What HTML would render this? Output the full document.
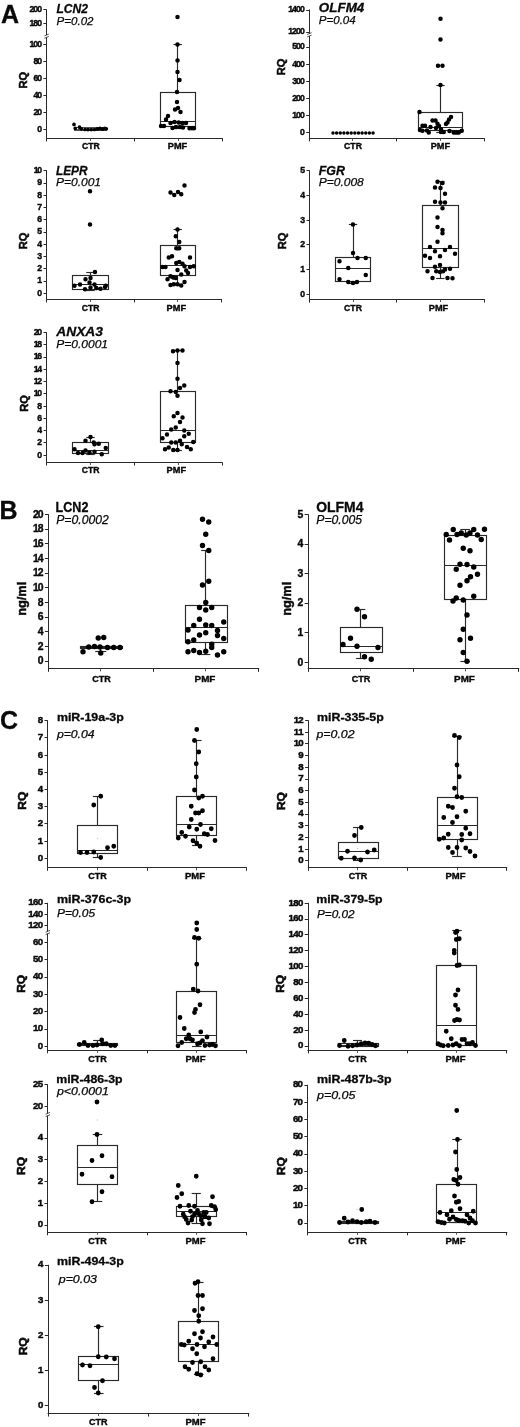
<!DOCTYPE html>
<html lang="en"><head><meta charset="utf-8"><title>Figure</title>
<style>
html,body{margin:0;padding:0;background:#fff;}
body{width:520px;height:1427px;overflow:hidden;}
svg{display:block;}
svg text{font-family:"Liberation Sans",sans-serif;fill:#0a0a0a;}
</style></head><body>
<svg width="520" height="1427" viewBox="0 0 520 1427" style="filter:blur(0.5px)">
<rect width="520" height="1427" fill="#fff"/>
<text x="1.00" y="22.50" font-size="25" font-weight="bold" stroke="#0a0a0a" stroke-width="0.3">A</text>
<text x="-0.40" y="519.40" font-size="25" font-weight="bold" stroke="#0a0a0a" stroke-width="0.3">B</text>
<text x="0.00" y="729.30" font-size="25" font-weight="bold" stroke="#0a0a0a" stroke-width="0.3">C</text>
<g><!-- LCN2 -->
<line x1="46.50" y1="9.50" x2="46.50" y2="35.00" stroke="#2a2a2a" stroke-width="1.0"/>
<line x1="46.50" y1="37.40" x2="46.50" y2="138.20" stroke="#2a2a2a" stroke-width="1.0"/>
<line x1="44.40" y1="35.90" x2="48.80" y2="34.10" stroke="#2a2a2a" stroke-width="0.8"/>
<line x1="44.40" y1="38.30" x2="48.80" y2="36.50" stroke="#2a2a2a" stroke-width="0.8"/>
<line x1="46.10" y1="138.50" x2="223.00" y2="138.50" stroke="#2a2a2a" stroke-width="1.0"/>
<line x1="46.50" y1="138.20" x2="46.50" y2="141.40" stroke="#2a2a2a" stroke-width="1.0"/>
<line x1="90.50" y1="138.20" x2="90.50" y2="140.92" stroke="#444" stroke-width="0.9"/>
<line x1="134.50" y1="138.20" x2="134.50" y2="141.40" stroke="#2a2a2a" stroke-width="1.0"/>
<line x1="178.50" y1="138.20" x2="178.50" y2="140.92" stroke="#444" stroke-width="0.9"/>
<line x1="222.50" y1="138.20" x2="222.50" y2="141.40" stroke="#2a2a2a" stroke-width="1.0"/>
<line x1="43.40" y1="9.50" x2="46.60" y2="9.50" stroke="#2a2a2a" stroke-width="1.0"/>
<text x="42.00" y="11.91" font-size="8.7" font-weight="bold" text-anchor="end" textLength="12.55" lengthAdjust="spacing" stroke="#0a0a0a" stroke-width="0.4">200</text>
<line x1="43.40" y1="23.50" x2="46.60" y2="23.50" stroke="#2a2a2a" stroke-width="1.0"/>
<text x="42.00" y="26.21" font-size="8.7" font-weight="bold" text-anchor="end" textLength="12.55" lengthAdjust="spacing" stroke="#0a0a0a" stroke-width="0.4">180</text>
<line x1="43.40" y1="44.50" x2="46.60" y2="44.50" stroke="#2a2a2a" stroke-width="1.0"/>
<text x="42.00" y="47.01" font-size="8.7" font-weight="bold" text-anchor="end" textLength="12.55" lengthAdjust="spacing" stroke="#0a0a0a" stroke-width="0.4">100</text>
<line x1="43.40" y1="61.50" x2="46.60" y2="61.50" stroke="#2a2a2a" stroke-width="1.0"/>
<text x="42.00" y="64.01" font-size="8.7" font-weight="bold" text-anchor="end" textLength="8.50" lengthAdjust="spacing" stroke="#0a0a0a" stroke-width="0.4">80</text>
<line x1="43.40" y1="78.50" x2="46.60" y2="78.50" stroke="#2a2a2a" stroke-width="1.0"/>
<text x="42.00" y="81.01" font-size="8.7" font-weight="bold" text-anchor="end" textLength="8.50" lengthAdjust="spacing" stroke="#0a0a0a" stroke-width="0.4">60</text>
<line x1="43.40" y1="95.50" x2="46.60" y2="95.50" stroke="#2a2a2a" stroke-width="1.0"/>
<text x="42.00" y="98.01" font-size="8.7" font-weight="bold" text-anchor="end" textLength="8.50" lengthAdjust="spacing" stroke="#0a0a0a" stroke-width="0.4">40</text>
<line x1="43.40" y1="112.50" x2="46.60" y2="112.50" stroke="#2a2a2a" stroke-width="1.0"/>
<text x="42.00" y="115.01" font-size="8.7" font-weight="bold" text-anchor="end" textLength="8.50" lengthAdjust="spacing" stroke="#0a0a0a" stroke-width="0.4">20</text>
<line x1="43.40" y1="129.50" x2="46.60" y2="129.50" stroke="#2a2a2a" stroke-width="1.0"/>
<text x="42.00" y="132.01" font-size="8.7" font-weight="bold" text-anchor="end" stroke="#0a0a0a" stroke-width="0.4">0</text>
<text x="27.30" y="80.20" font-size="10" font-weight="bold" text-anchor="middle" textLength="16.50" lengthAdjust="spacingAndGlyphs" transform="rotate(-90 27.30 80.20)" stroke="#0a0a0a" stroke-width="0.55">RQ</text>
<text x="56.50" y="12.60" font-size="13.2" font-weight="bold" font-style="italic" textLength="31.50" lengthAdjust="spacingAndGlyphs" stroke="#0a0a0a" stroke-width="0.3">LCN2</text>
<text x="56.50" y="24.50" font-size="11.8" font-style="italic" textLength="37.00" lengthAdjust="spacingAndGlyphs" stroke="#0a0a0a" stroke-width="0.25">P=0.02</text>
<text x="90.90" y="149.30" font-size="9" font-weight="bold" text-anchor="middle" textLength="17.80" lengthAdjust="spacingAndGlyphs" stroke="#0a0a0a" stroke-width="0.4">CTR</text>
<text x="177.50" y="149.30" font-size="9" font-weight="bold" text-anchor="middle" textLength="19.40" lengthAdjust="spacingAndGlyphs" stroke="#0a0a0a" stroke-width="0.4">PMF</text>
<rect x="74.50" y="127.50" width="32.00" height="3.00" fill="none" stroke="#2a2a2a" stroke-width="0.8"/>
<line x1="74.00" y1="129.50" x2="106.50" y2="129.50" stroke="#2a2a2a" stroke-width="0.8"/>
<line x1="177.50" y1="44.50" x2="177.50" y2="92.00" stroke="#2a2a2a" stroke-width="1.15"/>
<line x1="173.50" y1="44.50" x2="181.90" y2="44.50" stroke="#2a2a2a" stroke-width="1.15"/>
<line x1="177.50" y1="126.25" x2="177.50" y2="128.30" stroke="#2a2a2a" stroke-width="1.15"/>
<line x1="173.50" y1="128.50" x2="181.90" y2="128.50" stroke="#2a2a2a" stroke-width="1.15"/>
<rect x="160.50" y="92.50" width="35.00" height="34.00" fill="none" stroke="#2a2a2a" stroke-width="1.15"/>
<line x1="160.00" y1="121.50" x2="195.50" y2="121.50" stroke="#2a2a2a" stroke-width="1.15"/>
<path d="M177.50 17.00h0 M177.50 44.50h0 M177.50 60.50h0 M177.50 72.00h0 M179.50 80.00h0 M177.00 92.00h0 M177.00 102.00h0 M175.00 109.50h0 M178.00 108.00h0 M180.50 112.00h0 M168.00 116.00h0 M166.00 119.50h0 M170.50 123.00h0 M174.50 122.00h0 M178.70 122.50h0 M182.50 123.00h0 M186.00 123.00h0 M161.00 126.00h0 M164.00 126.00h0 M172.50 128.00h0 M176.00 127.00h0 M180.00 127.00h0 M183.00 127.50h0 M189.50 128.20h0 M192.00 128.20h0 M194.00 128.20h0" stroke="#000" stroke-width="4.5" stroke-linecap="round" fill="none"/>
<path d="M74.00 124.40h0 M75.20 128.30h0 M79.50 127.20h0 M81.25 128.80h0 M85.00 129.50h0 M88.00 129.60h0 M91.25 129.60h0 M94.50 129.50h0 M97.50 128.90h0 M100.00 128.40h0 M102.60 129.20h0 M104.80 128.40h0 M106.30 128.80h0" stroke="#000" stroke-width="3.7" stroke-linecap="round" fill="none"/>
</g>
<g><!-- OLFM4 -->
<line x1="309.50" y1="9.50" x2="309.50" y2="33.60" stroke="#2a2a2a" stroke-width="1.0"/>
<line x1="309.50" y1="36.00" x2="309.50" y2="138.20" stroke="#2a2a2a" stroke-width="1.0"/>
<line x1="307.20" y1="34.50" x2="311.60" y2="32.70" stroke="#2a2a2a" stroke-width="0.8"/>
<line x1="307.20" y1="36.90" x2="311.60" y2="35.10" stroke="#2a2a2a" stroke-width="0.8"/>
<line x1="308.90" y1="138.50" x2="484.50" y2="138.50" stroke="#2a2a2a" stroke-width="1.0"/>
<line x1="309.50" y1="138.20" x2="309.50" y2="141.40" stroke="#2a2a2a" stroke-width="1.0"/>
<line x1="352.50" y1="138.20" x2="352.50" y2="140.92" stroke="#444" stroke-width="0.9"/>
<line x1="396.50" y1="138.20" x2="396.50" y2="141.40" stroke="#2a2a2a" stroke-width="1.0"/>
<line x1="440.50" y1="138.20" x2="440.50" y2="140.92" stroke="#444" stroke-width="0.9"/>
<line x1="484.50" y1="138.20" x2="484.50" y2="141.40" stroke="#2a2a2a" stroke-width="1.0"/>
<line x1="306.20" y1="10.50" x2="309.40" y2="10.50" stroke="#2a2a2a" stroke-width="1.0"/>
<text x="304.80" y="12.41" font-size="8.7" font-weight="bold" text-anchor="end" textLength="16.60" lengthAdjust="spacing" stroke="#0a0a0a" stroke-width="0.4">1400</text>
<line x1="306.20" y1="32.50" x2="309.40" y2="32.50" stroke="#2a2a2a" stroke-width="1.0"/>
<text x="304.80" y="34.41" font-size="8.7" font-weight="bold" text-anchor="end" textLength="16.60" lengthAdjust="spacing" stroke="#0a0a0a" stroke-width="0.4">1200</text>
<line x1="306.20" y1="47.50" x2="309.40" y2="47.50" stroke="#2a2a2a" stroke-width="1.0"/>
<text x="304.80" y="49.41" font-size="8.7" font-weight="bold" text-anchor="end" textLength="12.55" lengthAdjust="spacing" stroke="#0a0a0a" stroke-width="0.4">500</text>
<line x1="306.20" y1="64.50" x2="309.40" y2="64.50" stroke="#2a2a2a" stroke-width="1.0"/>
<text x="304.80" y="66.56" font-size="8.7" font-weight="bold" text-anchor="end" textLength="12.55" lengthAdjust="spacing" stroke="#0a0a0a" stroke-width="0.4">400</text>
<line x1="306.20" y1="81.50" x2="309.40" y2="81.50" stroke="#2a2a2a" stroke-width="1.0"/>
<text x="304.80" y="83.71" font-size="8.7" font-weight="bold" text-anchor="end" textLength="12.55" lengthAdjust="spacing" stroke="#0a0a0a" stroke-width="0.4">300</text>
<line x1="306.20" y1="98.50" x2="309.40" y2="98.50" stroke="#2a2a2a" stroke-width="1.0"/>
<text x="304.80" y="100.86" font-size="8.7" font-weight="bold" text-anchor="end" textLength="12.55" lengthAdjust="spacing" stroke="#0a0a0a" stroke-width="0.4">200</text>
<line x1="306.20" y1="115.50" x2="309.40" y2="115.50" stroke="#2a2a2a" stroke-width="1.0"/>
<text x="304.80" y="118.01" font-size="8.7" font-weight="bold" text-anchor="end" textLength="12.55" lengthAdjust="spacing" stroke="#0a0a0a" stroke-width="0.4">100</text>
<line x1="306.20" y1="132.50" x2="309.40" y2="132.50" stroke="#2a2a2a" stroke-width="1.0"/>
<text x="304.80" y="135.16" font-size="8.7" font-weight="bold" text-anchor="end" stroke="#0a0a0a" stroke-width="0.4">0</text>
<text x="285.30" y="66.90" font-size="10" font-weight="bold" text-anchor="middle" textLength="16.50" lengthAdjust="spacingAndGlyphs" transform="rotate(-90 285.30 66.90)" stroke="#0a0a0a" stroke-width="0.55">RQ</text>
<text x="318.80" y="12.20" font-size="13.2" font-weight="bold" font-style="italic" textLength="45.50" lengthAdjust="spacingAndGlyphs" stroke="#0a0a0a" stroke-width="0.3">OLFM4</text>
<text x="318.80" y="23.80" font-size="11.8" font-style="italic" textLength="36.90" lengthAdjust="spacingAndGlyphs" stroke="#0a0a0a" stroke-width="0.25">P=0.04</text>
<text x="353.00" y="149.30" font-size="9" font-weight="bold" text-anchor="middle" textLength="17.80" lengthAdjust="spacingAndGlyphs" stroke="#0a0a0a" stroke-width="0.4">CTR</text>
<text x="440.40" y="149.30" font-size="9" font-weight="bold" text-anchor="middle" textLength="19.40" lengthAdjust="spacingAndGlyphs" stroke="#0a0a0a" stroke-width="0.4">PMF</text>
<line x1="440.50" y1="85.00" x2="440.50" y2="112.00" stroke="#2a2a2a" stroke-width="1.15"/>
<line x1="436.30" y1="85.50" x2="444.70" y2="85.50" stroke="#2a2a2a" stroke-width="1.15"/>
<line x1="440.50" y1="130.50" x2="440.50" y2="132.50" stroke="#2a2a2a" stroke-width="1.15"/>
<line x1="436.30" y1="132.50" x2="444.70" y2="132.50" stroke="#2a2a2a" stroke-width="1.15"/>
<rect x="418.50" y="112.50" width="44.00" height="18.00" fill="none" stroke="#2a2a2a" stroke-width="1.15"/>
<line x1="418.75" y1="127.50" x2="462.50" y2="127.50" stroke="#2a2a2a" stroke-width="1.15"/>
<path d="M440.50 18.75h0 M440.50 39.50h0 M438.00 65.75h0 M442.50 65.75h0 M440.50 85.00h0 M419.50 112.00h0 M451.00 117.00h0 M449.00 119.50h0 M447.50 122.50h0 M446.00 124.00h0 M432.50 120.50h0 M435.50 120.50h0 M437.50 123.75h0 M439.00 126.00h0 M422.50 125.75h0 M425.00 125.75h0 M430.50 127.00h0 M420.00 130.00h0 M422.50 130.75h0 M427.00 130.50h0 M428.75 132.50h0 M441.00 129.00h0 M441.00 132.00h0 M443.75 132.00h0 M449.50 131.00h0 M453.75 132.50h0 M456.00 132.50h0 M458.75 132.50h0 M461.75 130.75h0 M436.00 128.00h0" stroke="#000" stroke-width="4.5" stroke-linecap="round" fill="none"/>
<path d="M333.00 132.90h0 M336.64 132.90h0 M340.28 132.90h0 M343.92 132.90h0 M347.56 132.90h0 M351.20 132.90h0 M354.84 132.90h0 M358.48 132.90h0 M362.12 132.90h0 M365.76 132.90h0 M369.40 132.90h0 M373.04 132.90h0" stroke="#000" stroke-width="3.5" stroke-linecap="round" fill="none"/>
</g>
<g><!-- LEPR -->
<line x1="46.50" y1="170.50" x2="46.50" y2="299.25" stroke="#2a2a2a" stroke-width="1.0"/>
<line x1="46.25" y1="299.50" x2="222.00" y2="299.50" stroke="#2a2a2a" stroke-width="1.0"/>
<line x1="46.50" y1="299.25" x2="46.50" y2="302.45" stroke="#2a2a2a" stroke-width="1.0"/>
<line x1="90.50" y1="299.25" x2="90.50" y2="301.97" stroke="#444" stroke-width="0.9"/>
<line x1="134.50" y1="299.25" x2="134.50" y2="302.45" stroke="#2a2a2a" stroke-width="1.0"/>
<line x1="177.50" y1="299.25" x2="177.50" y2="301.97" stroke="#444" stroke-width="0.9"/>
<line x1="221.50" y1="299.25" x2="221.50" y2="302.45" stroke="#2a2a2a" stroke-width="1.0"/>
<line x1="43.55" y1="170.50" x2="46.75" y2="170.50" stroke="#2a2a2a" stroke-width="1.0"/>
<text x="42.15" y="173.16" font-size="8.7" font-weight="bold" text-anchor="end" textLength="8.50" lengthAdjust="spacing" stroke="#0a0a0a" stroke-width="0.4">10</text>
<line x1="43.55" y1="183.50" x2="46.75" y2="183.50" stroke="#2a2a2a" stroke-width="1.0"/>
<text x="42.15" y="185.41" font-size="8.7" font-weight="bold" text-anchor="end" stroke="#0a0a0a" stroke-width="0.4">9</text>
<line x1="43.55" y1="195.50" x2="46.75" y2="195.50" stroke="#2a2a2a" stroke-width="1.0"/>
<text x="42.15" y="197.66" font-size="8.7" font-weight="bold" text-anchor="end" stroke="#0a0a0a" stroke-width="0.4">8</text>
<line x1="43.55" y1="207.50" x2="46.75" y2="207.50" stroke="#2a2a2a" stroke-width="1.0"/>
<text x="42.15" y="209.91" font-size="8.7" font-weight="bold" text-anchor="end" stroke="#0a0a0a" stroke-width="0.4">7</text>
<line x1="43.55" y1="219.50" x2="46.75" y2="219.50" stroke="#2a2a2a" stroke-width="1.0"/>
<text x="42.15" y="222.16" font-size="8.7" font-weight="bold" text-anchor="end" stroke="#0a0a0a" stroke-width="0.4">6</text>
<line x1="43.55" y1="232.50" x2="46.75" y2="232.50" stroke="#2a2a2a" stroke-width="1.0"/>
<text x="42.15" y="234.41" font-size="8.7" font-weight="bold" text-anchor="end" stroke="#0a0a0a" stroke-width="0.4">5</text>
<line x1="43.55" y1="244.50" x2="46.75" y2="244.50" stroke="#2a2a2a" stroke-width="1.0"/>
<text x="42.15" y="246.66" font-size="8.7" font-weight="bold" text-anchor="end" stroke="#0a0a0a" stroke-width="0.4">4</text>
<line x1="43.55" y1="256.50" x2="46.75" y2="256.50" stroke="#2a2a2a" stroke-width="1.0"/>
<text x="42.15" y="258.91" font-size="8.7" font-weight="bold" text-anchor="end" stroke="#0a0a0a" stroke-width="0.4">3</text>
<line x1="43.55" y1="268.50" x2="46.75" y2="268.50" stroke="#2a2a2a" stroke-width="1.0"/>
<text x="42.15" y="271.16" font-size="8.7" font-weight="bold" text-anchor="end" stroke="#0a0a0a" stroke-width="0.4">2</text>
<line x1="43.55" y1="281.50" x2="46.75" y2="281.50" stroke="#2a2a2a" stroke-width="1.0"/>
<text x="42.15" y="283.41" font-size="8.7" font-weight="bold" text-anchor="end" stroke="#0a0a0a" stroke-width="0.4">1</text>
<line x1="43.55" y1="293.50" x2="46.75" y2="293.50" stroke="#2a2a2a" stroke-width="1.0"/>
<text x="42.15" y="295.66" font-size="8.7" font-weight="bold" text-anchor="end" stroke="#0a0a0a" stroke-width="0.4">0</text>
<text x="27.30" y="241.00" font-size="10" font-weight="bold" text-anchor="middle" textLength="16.50" lengthAdjust="spacingAndGlyphs" transform="rotate(-90 27.30 241.00)" stroke="#0a0a0a" stroke-width="0.55">RQ</text>
<text x="56.00" y="174.50" font-size="13.2" font-weight="bold" font-style="italic" textLength="31.50" lengthAdjust="spacingAndGlyphs" stroke="#0a0a0a" stroke-width="0.3">LEPR</text>
<text x="56.00" y="186.25" font-size="11.8" font-style="italic" textLength="45.00" lengthAdjust="spacingAndGlyphs" stroke="#0a0a0a" stroke-width="0.25">P=0.001</text>
<text x="90.70" y="310.75" font-size="9" font-weight="bold" text-anchor="middle" textLength="17.80" lengthAdjust="spacingAndGlyphs" stroke="#0a0a0a" stroke-width="0.4">CTR</text>
<text x="176.30" y="310.75" font-size="9" font-weight="bold" text-anchor="middle" textLength="19.40" lengthAdjust="spacingAndGlyphs" stroke="#0a0a0a" stroke-width="0.4">PMF</text>
<line x1="90.50" y1="272.00" x2="90.50" y2="275.25" stroke="#2a2a2a" stroke-width="1.15"/>
<line x1="86.30" y1="272.50" x2="94.70" y2="272.50" stroke="#2a2a2a" stroke-width="1.15"/>
<line x1="90.50" y1="289.25" x2="90.50" y2="290.30" stroke="#2a2a2a" stroke-width="1.15"/>
<line x1="86.30" y1="290.50" x2="94.70" y2="290.50" stroke="#2a2a2a" stroke-width="1.15"/>
<rect x="72.50" y="275.50" width="36.00" height="14.00" fill="none" stroke="#2a2a2a" stroke-width="1.15"/>
<line x1="72.50" y1="284.50" x2="108.00" y2="284.50" stroke="#2a2a2a" stroke-width="1.15"/>
<line x1="177.50" y1="229.50" x2="177.50" y2="245.00" stroke="#2a2a2a" stroke-width="1.15"/>
<line x1="173.50" y1="229.50" x2="181.90" y2="229.50" stroke="#2a2a2a" stroke-width="1.15"/>
<line x1="177.50" y1="275.50" x2="177.50" y2="284.50" stroke="#2a2a2a" stroke-width="1.15"/>
<line x1="173.50" y1="284.50" x2="181.90" y2="284.50" stroke="#2a2a2a" stroke-width="1.15"/>
<rect x="160.50" y="245.50" width="35.00" height="30.00" fill="none" stroke="#2a2a2a" stroke-width="1.15"/>
<line x1="160.00" y1="265.50" x2="195.50" y2="265.50" stroke="#2a2a2a" stroke-width="1.15"/>
<path d="M90.00 191.25h0 M90.00 224.50h0 M95.00 272.00h0 M85.50 279.25h0 M90.50 278.00h0 M89.50 282.50h0 M74.50 285.75h0 M80.00 284.50h0 M94.50 284.50h0 M105.75 285.75h0 M85.00 289.25h0 M90.50 287.50h0 M96.25 288.00h0 M100.50 288.75h0 M105.00 287.00h0 M184.50 185.50h0 M170.50 192.50h0 M174.25 195.00h0 M178.00 192.00h0 M181.25 194.25h0 M177.50 229.50h0 M175.75 236.25h0 M179.25 242.00h0 M176.25 248.25h0 M179.25 248.25h0 M168.75 257.50h0 M172.00 256.25h0 M190.00 257.50h0 M176.25 263.00h0 M179.25 262.00h0 M182.50 263.75h0 M162.50 267.00h0 M165.50 267.00h0 M184.50 266.25h0 M190.00 267.00h0 M193.75 266.25h0 M177.50 270.00h0 M186.25 270.50h0 M188.00 273.00h0 M181.25 274.50h0 M170.50 276.25h0 M173.25 277.50h0 M167.50 279.25h0 M175.75 278.00h0 M184.50 282.00h0 M170.50 285.00h0 M173.75 284.25h0 M177.50 284.25h0 M181.25 285.50h0" stroke="#000" stroke-width="4.5" stroke-linecap="round" fill="none"/>
</g>
<g><!-- FGR -->
<line x1="309.50" y1="170.50" x2="309.50" y2="299.35" stroke="#2a2a2a" stroke-width="1.0"/>
<line x1="309.20" y1="299.50" x2="484.75" y2="299.50" stroke="#2a2a2a" stroke-width="1.0"/>
<line x1="309.50" y1="299.35" x2="309.50" y2="302.55" stroke="#2a2a2a" stroke-width="1.0"/>
<line x1="353.50" y1="299.35" x2="353.50" y2="302.07" stroke="#444" stroke-width="0.9"/>
<line x1="396.50" y1="299.35" x2="396.50" y2="302.55" stroke="#2a2a2a" stroke-width="1.0"/>
<line x1="440.50" y1="299.35" x2="440.50" y2="302.07" stroke="#444" stroke-width="0.9"/>
<line x1="484.50" y1="299.35" x2="484.50" y2="302.55" stroke="#2a2a2a" stroke-width="1.0"/>
<line x1="306.50" y1="170.50" x2="309.70" y2="170.50" stroke="#2a2a2a" stroke-width="1.0"/>
<text x="305.10" y="173.16" font-size="8.7" font-weight="bold" text-anchor="end" stroke="#0a0a0a" stroke-width="0.4">5</text>
<line x1="306.50" y1="195.50" x2="309.70" y2="195.50" stroke="#2a2a2a" stroke-width="1.0"/>
<text x="305.10" y="197.86" font-size="8.7" font-weight="bold" text-anchor="end" stroke="#0a0a0a" stroke-width="0.4">4</text>
<line x1="306.50" y1="220.50" x2="309.70" y2="220.50" stroke="#2a2a2a" stroke-width="1.0"/>
<text x="305.10" y="222.56" font-size="8.7" font-weight="bold" text-anchor="end" stroke="#0a0a0a" stroke-width="0.4">3</text>
<line x1="306.50" y1="244.50" x2="309.70" y2="244.50" stroke="#2a2a2a" stroke-width="1.0"/>
<text x="305.10" y="247.26" font-size="8.7" font-weight="bold" text-anchor="end" stroke="#0a0a0a" stroke-width="0.4">2</text>
<line x1="306.50" y1="269.50" x2="309.70" y2="269.50" stroke="#2a2a2a" stroke-width="1.0"/>
<text x="305.10" y="271.96" font-size="8.7" font-weight="bold" text-anchor="end" stroke="#0a0a0a" stroke-width="0.4">1</text>
<line x1="306.50" y1="294.50" x2="309.70" y2="294.50" stroke="#2a2a2a" stroke-width="1.0"/>
<text x="305.10" y="296.66" font-size="8.7" font-weight="bold" text-anchor="end" stroke="#0a0a0a" stroke-width="0.4">0</text>
<text x="286.30" y="241.00" font-size="10" font-weight="bold" text-anchor="middle" textLength="16.50" lengthAdjust="spacingAndGlyphs" transform="rotate(-90 286.30 241.00)" stroke="#0a0a0a" stroke-width="0.55">RQ</text>
<text x="318.75" y="174.50" font-size="13.2" font-weight="bold" font-style="italic" textLength="26.25" lengthAdjust="spacingAndGlyphs" stroke="#0a0a0a" stroke-width="0.3">FGR</text>
<text x="318.75" y="185.50" font-size="11.8" font-style="italic" textLength="45.00" lengthAdjust="spacingAndGlyphs" stroke="#0a0a0a" stroke-width="0.25">P=0.008</text>
<text x="353.00" y="310.75" font-size="9" font-weight="bold" text-anchor="middle" textLength="17.80" lengthAdjust="spacingAndGlyphs" stroke="#0a0a0a" stroke-width="0.4">CTR</text>
<text x="438.50" y="310.75" font-size="9" font-weight="bold" text-anchor="middle" textLength="19.40" lengthAdjust="spacingAndGlyphs" stroke="#0a0a0a" stroke-width="0.4">PMF</text>
<line x1="353.50" y1="224.50" x2="353.50" y2="257.50" stroke="#2a2a2a" stroke-width="1.15"/>
<line x1="348.80" y1="224.50" x2="357.20" y2="224.50" stroke="#2a2a2a" stroke-width="1.15"/>
<line x1="353.50" y1="281.75" x2="353.50" y2="283.00" stroke="#2a2a2a" stroke-width="1.15"/>
<line x1="348.80" y1="283.50" x2="357.20" y2="283.50" stroke="#2a2a2a" stroke-width="1.15"/>
<rect x="335.50" y="257.50" width="35.00" height="24.00" fill="none" stroke="#2a2a2a" stroke-width="1.15"/>
<line x1="335.50" y1="268.50" x2="370.75" y2="268.50" stroke="#2a2a2a" stroke-width="1.15"/>
<line x1="440.50" y1="181.75" x2="440.50" y2="205.75" stroke="#2a2a2a" stroke-width="1.15"/>
<line x1="436.10" y1="181.50" x2="444.50" y2="181.50" stroke="#2a2a2a" stroke-width="1.15"/>
<line x1="440.50" y1="267.50" x2="440.50" y2="278.25" stroke="#2a2a2a" stroke-width="1.15"/>
<line x1="436.10" y1="278.50" x2="444.50" y2="278.50" stroke="#2a2a2a" stroke-width="1.15"/>
<rect x="422.50" y="205.50" width="36.00" height="62.00" fill="none" stroke="#2a2a2a" stroke-width="1.15"/>
<line x1="422.50" y1="248.50" x2="458.00" y2="248.50" stroke="#2a2a2a" stroke-width="1.15"/>
<path d="M353.00 224.50h0 M353.00 253.00h0 M357.50 258.00h0 M365.75 258.00h0 M339.50 261.25h0 M348.25 268.00h0 M365.75 275.00h0 M339.50 279.25h0 M348.25 282.00h0 M353.00 283.00h0 M357.00 282.00h0 M437.50 181.75h0 M442.50 183.00h0 M435.00 187.50h0 M440.50 188.00h0 M445.00 193.75h0 M435.00 201.75h0 M440.50 202.50h0 M445.00 202.50h0 M442.50 208.25h0 M437.50 217.50h0 M437.50 227.00h0 M442.50 230.00h0 M442.50 233.25h0 M437.50 241.75h0 M430.00 247.00h0 M450.00 247.00h0 M435.00 251.25h0 M445.00 250.00h0 M425.00 255.75h0 M430.00 258.00h0 M440.00 256.25h0 M455.00 253.75h0 M440.00 265.00h0 M435.00 266.75h0 M450.00 268.75h0 M445.00 269.50h0 M427.50 271.25h0 M436.25 271.25h0 M440.00 272.00h0 M443.00 271.25h0 M432.50 278.00h0 M447.50 278.00h0 M452.50 278.25h0" stroke="#000" stroke-width="4.5" stroke-linecap="round" fill="none"/>
</g>
<g><!-- ANXA3 -->
<line x1="46.50" y1="332.30" x2="46.50" y2="462.30" stroke="#2a2a2a" stroke-width="1.0"/>
<line x1="46.25" y1="462.50" x2="222.50" y2="462.50" stroke="#2a2a2a" stroke-width="1.0"/>
<line x1="46.50" y1="462.30" x2="46.50" y2="465.50" stroke="#2a2a2a" stroke-width="1.0"/>
<line x1="90.50" y1="462.30" x2="90.50" y2="465.02" stroke="#444" stroke-width="0.9"/>
<line x1="134.50" y1="462.30" x2="134.50" y2="465.50" stroke="#2a2a2a" stroke-width="1.0"/>
<line x1="178.50" y1="462.30" x2="178.50" y2="465.02" stroke="#444" stroke-width="0.9"/>
<line x1="222.50" y1="462.30" x2="222.50" y2="465.50" stroke="#2a2a2a" stroke-width="1.0"/>
<line x1="43.55" y1="332.50" x2="46.75" y2="332.50" stroke="#2a2a2a" stroke-width="1.0"/>
<text x="42.15" y="334.91" font-size="8.7" font-weight="bold" text-anchor="end" textLength="8.50" lengthAdjust="spacing" stroke="#0a0a0a" stroke-width="0.4">20</text>
<line x1="43.55" y1="344.50" x2="46.75" y2="344.50" stroke="#2a2a2a" stroke-width="1.0"/>
<text x="42.15" y="347.19" font-size="8.7" font-weight="bold" text-anchor="end" textLength="8.50" lengthAdjust="spacing" stroke="#0a0a0a" stroke-width="0.4">18</text>
<line x1="43.55" y1="357.50" x2="46.75" y2="357.50" stroke="#2a2a2a" stroke-width="1.0"/>
<text x="42.15" y="359.46" font-size="8.7" font-weight="bold" text-anchor="end" textLength="8.50" lengthAdjust="spacing" stroke="#0a0a0a" stroke-width="0.4">16</text>
<line x1="43.55" y1="369.50" x2="46.75" y2="369.50" stroke="#2a2a2a" stroke-width="1.0"/>
<text x="42.15" y="371.74" font-size="8.7" font-weight="bold" text-anchor="end" textLength="8.50" lengthAdjust="spacing" stroke="#0a0a0a" stroke-width="0.4">14</text>
<line x1="43.55" y1="381.50" x2="46.75" y2="381.50" stroke="#2a2a2a" stroke-width="1.0"/>
<text x="42.15" y="384.01" font-size="8.7" font-weight="bold" text-anchor="end" textLength="8.50" lengthAdjust="spacing" stroke="#0a0a0a" stroke-width="0.4">12</text>
<line x1="43.55" y1="393.50" x2="46.75" y2="393.50" stroke="#2a2a2a" stroke-width="1.0"/>
<text x="42.15" y="396.29" font-size="8.7" font-weight="bold" text-anchor="end" textLength="8.50" lengthAdjust="spacing" stroke="#0a0a0a" stroke-width="0.4">10</text>
<line x1="43.55" y1="406.50" x2="46.75" y2="406.50" stroke="#2a2a2a" stroke-width="1.0"/>
<text x="42.15" y="408.56" font-size="8.7" font-weight="bold" text-anchor="end" stroke="#0a0a0a" stroke-width="0.4">8</text>
<line x1="43.55" y1="418.50" x2="46.75" y2="418.50" stroke="#2a2a2a" stroke-width="1.0"/>
<text x="42.15" y="420.84" font-size="8.7" font-weight="bold" text-anchor="end" stroke="#0a0a0a" stroke-width="0.4">6</text>
<line x1="43.55" y1="430.50" x2="46.75" y2="430.50" stroke="#2a2a2a" stroke-width="1.0"/>
<text x="42.15" y="433.11" font-size="8.7" font-weight="bold" text-anchor="end" stroke="#0a0a0a" stroke-width="0.4">4</text>
<line x1="43.55" y1="442.50" x2="46.75" y2="442.50" stroke="#2a2a2a" stroke-width="1.0"/>
<text x="42.15" y="445.39" font-size="8.7" font-weight="bold" text-anchor="end" stroke="#0a0a0a" stroke-width="0.4">2</text>
<line x1="43.55" y1="455.50" x2="46.75" y2="455.50" stroke="#2a2a2a" stroke-width="1.0"/>
<text x="42.15" y="457.66" font-size="8.7" font-weight="bold" text-anchor="end" stroke="#0a0a0a" stroke-width="0.4">0</text>
<text x="28.00" y="403.50" font-size="10" font-weight="bold" text-anchor="middle" textLength="16.50" lengthAdjust="spacingAndGlyphs" transform="rotate(-90 28.00 403.50)" stroke="#0a0a0a" stroke-width="0.55">RQ</text>
<text x="56.25" y="336.25" font-size="13.2" font-weight="bold" font-style="italic" textLength="46.75" lengthAdjust="spacingAndGlyphs" stroke="#0a0a0a" stroke-width="0.3">ANXA3</text>
<text x="56.25" y="348.00" font-size="11.8" font-style="italic" textLength="51.75" lengthAdjust="spacingAndGlyphs" stroke="#0a0a0a" stroke-width="0.25">P=0.0001</text>
<text x="90.70" y="472.80" font-size="9" font-weight="bold" text-anchor="middle" textLength="17.80" lengthAdjust="spacingAndGlyphs" stroke="#0a0a0a" stroke-width="0.4">CTR</text>
<text x="176.30" y="472.80" font-size="9" font-weight="bold" text-anchor="middle" textLength="19.40" lengthAdjust="spacingAndGlyphs" stroke="#0a0a0a" stroke-width="0.4">PMF</text>
<line x1="90.50" y1="437.00" x2="90.50" y2="442.50" stroke="#2a2a2a" stroke-width="1.15"/>
<line x1="86.30" y1="437.50" x2="94.70" y2="437.50" stroke="#2a2a2a" stroke-width="1.15"/>
<line x1="90.50" y1="453.00" x2="90.50" y2="454.50" stroke="#2a2a2a" stroke-width="1.15"/>
<line x1="86.30" y1="454.50" x2="94.70" y2="454.50" stroke="#2a2a2a" stroke-width="1.15"/>
<rect x="72.50" y="442.50" width="36.00" height="11.00" fill="none" stroke="#2a2a2a" stroke-width="1.15"/>
<line x1="72.50" y1="450.50" x2="108.00" y2="450.50" stroke="#2a2a2a" stroke-width="1.15"/>
<line x1="177.50" y1="350.75" x2="177.50" y2="391.75" stroke="#2a2a2a" stroke-width="1.15"/>
<line x1="173.50" y1="350.50" x2="181.90" y2="350.50" stroke="#2a2a2a" stroke-width="1.15"/>
<line x1="177.50" y1="442.50" x2="177.50" y2="450.00" stroke="#2a2a2a" stroke-width="1.15"/>
<line x1="173.50" y1="450.50" x2="181.90" y2="450.50" stroke="#2a2a2a" stroke-width="1.15"/>
<rect x="160.50" y="391.50" width="35.00" height="51.00" fill="none" stroke="#2a2a2a" stroke-width="1.15"/>
<line x1="160.00" y1="430.50" x2="195.50" y2="430.50" stroke="#2a2a2a" stroke-width="1.15"/>
<path d="M90.50 437.00h0 M85.50 440.75h0 M93.75 442.50h0 M94.50 444.25h0 M98.75 443.75h0 M74.50 449.25h0 M85.50 450.50h0 M105.75 448.00h0 M78.00 453.00h0 M82.50 453.00h0 M89.50 452.50h0 M94.50 451.75h0 M101.75 454.25h0 M173.00 351.25h0 M177.50 350.50h0 M182.50 350.50h0 M177.50 363.00h0 M177.50 378.75h0 M184.25 385.50h0 M180.00 388.00h0 M170.50 391.25h0 M175.75 392.00h0 M177.50 395.75h0 M177.50 413.00h0 M173.75 416.25h0 M182.50 417.50h0 M180.00 422.00h0 M175.75 427.50h0 M171.25 429.50h0 M184.25 430.50h0 M167.00 434.50h0 M188.75 433.75h0 M184.25 436.25h0 M162.50 438.25h0 M180.00 440.75h0 M171.25 442.50h0 M175.75 442.50h0 M193.25 442.00h0 M181.75 444.25h0 M187.00 447.00h0 M168.75 447.50h0 M165.00 449.25h0 M173.25 450.00h0 M177.50 450.00h0 M190.75 449.25h0" stroke="#000" stroke-width="4.5" stroke-linecap="round" fill="none"/>
</g>
<g><!-- LCN2 -->
<line x1="48.50" y1="514.30" x2="48.50" y2="668.25" stroke="#2a2a2a" stroke-width="1.0"/>
<line x1="48.00" y1="668.50" x2="259.10" y2="668.50" stroke="#2a2a2a" stroke-width="1.0"/>
<line x1="48.50" y1="668.25" x2="48.50" y2="671.85" stroke="#2a2a2a" stroke-width="1.0"/>
<line x1="100.50" y1="668.25" x2="100.50" y2="671.31" stroke="#444" stroke-width="0.9"/>
<line x1="153.50" y1="668.25" x2="153.50" y2="671.85" stroke="#2a2a2a" stroke-width="1.0"/>
<line x1="205.50" y1="668.25" x2="205.50" y2="671.31" stroke="#444" stroke-width="0.9"/>
<line x1="258.50" y1="668.25" x2="258.50" y2="671.85" stroke="#2a2a2a" stroke-width="1.0"/>
<line x1="44.90" y1="514.50" x2="48.50" y2="514.50" stroke="#2a2a2a" stroke-width="1.0"/>
<text x="43.50" y="517.52" font-size="10.4" font-weight="bold" text-anchor="end" textLength="10.60" lengthAdjust="spacing" stroke="#0a0a0a" stroke-width="0.4">20</text>
<line x1="44.90" y1="529.50" x2="48.50" y2="529.50" stroke="#2a2a2a" stroke-width="1.0"/>
<text x="43.50" y="532.20" font-size="10.4" font-weight="bold" text-anchor="end" textLength="10.60" lengthAdjust="spacing" stroke="#0a0a0a" stroke-width="0.4">18</text>
<line x1="44.90" y1="543.50" x2="48.50" y2="543.50" stroke="#2a2a2a" stroke-width="1.0"/>
<text x="43.50" y="546.87" font-size="10.4" font-weight="bold" text-anchor="end" textLength="10.60" lengthAdjust="spacing" stroke="#0a0a0a" stroke-width="0.4">16</text>
<line x1="44.90" y1="558.50" x2="48.50" y2="558.50" stroke="#2a2a2a" stroke-width="1.0"/>
<text x="43.50" y="561.55" font-size="10.4" font-weight="bold" text-anchor="end" textLength="10.60" lengthAdjust="spacing" stroke="#0a0a0a" stroke-width="0.4">14</text>
<line x1="44.90" y1="573.50" x2="48.50" y2="573.50" stroke="#2a2a2a" stroke-width="1.0"/>
<text x="43.50" y="576.22" font-size="10.4" font-weight="bold" text-anchor="end" textLength="10.60" lengthAdjust="spacing" stroke="#0a0a0a" stroke-width="0.4">12</text>
<line x1="44.90" y1="587.50" x2="48.50" y2="587.50" stroke="#2a2a2a" stroke-width="1.0"/>
<text x="43.50" y="590.90" font-size="10.4" font-weight="bold" text-anchor="end" textLength="10.60" lengthAdjust="spacing" stroke="#0a0a0a" stroke-width="0.4">10</text>
<line x1="44.90" y1="602.50" x2="48.50" y2="602.50" stroke="#2a2a2a" stroke-width="1.0"/>
<text x="43.50" y="605.57" font-size="10.4" font-weight="bold" text-anchor="end" stroke="#0a0a0a" stroke-width="0.4">8</text>
<line x1="44.90" y1="617.50" x2="48.50" y2="617.50" stroke="#2a2a2a" stroke-width="1.0"/>
<text x="43.50" y="620.25" font-size="10.4" font-weight="bold" text-anchor="end" stroke="#0a0a0a" stroke-width="0.4">6</text>
<line x1="44.90" y1="631.50" x2="48.50" y2="631.50" stroke="#2a2a2a" stroke-width="1.0"/>
<text x="43.50" y="634.92" font-size="10.4" font-weight="bold" text-anchor="end" stroke="#0a0a0a" stroke-width="0.4">4</text>
<line x1="44.90" y1="646.50" x2="48.50" y2="646.50" stroke="#2a2a2a" stroke-width="1.0"/>
<text x="43.50" y="649.60" font-size="10.4" font-weight="bold" text-anchor="end" stroke="#0a0a0a" stroke-width="0.4">2</text>
<line x1="44.90" y1="661.50" x2="48.50" y2="661.50" stroke="#2a2a2a" stroke-width="1.0"/>
<text x="43.50" y="664.27" font-size="10.4" font-weight="bold" text-anchor="end" stroke="#0a0a0a" stroke-width="0.4">0</text>
<text x="25.50" y="598.75" font-size="12" font-weight="bold" text-anchor="middle" textLength="34.00" lengthAdjust="spacingAndGlyphs" transform="rotate(-90 25.50 598.75)" stroke="#0a0a0a" stroke-width="0.45">ng/ml</text>
<text x="55.60" y="511.80" font-size="13.8" font-weight="bold" textLength="32.80" lengthAdjust="spacingAndGlyphs" stroke="#0a0a0a" stroke-width="0.3">LCN2</text>
<text x="56.25" y="524.10" font-size="12.6" font-style="italic" textLength="52.50" lengthAdjust="spacingAndGlyphs" stroke="#0a0a0a" stroke-width="0.25">P=0.0002</text>
<text x="101.50" y="682.00" font-size="9.6" font-weight="bold" text-anchor="middle" textLength="18.60" lengthAdjust="spacingAndGlyphs" stroke="#0a0a0a" stroke-width="0.4">CTR</text>
<text x="205.00" y="682.00" font-size="9.6" font-weight="bold" text-anchor="middle" textLength="20.80" lengthAdjust="spacingAndGlyphs" stroke="#0a0a0a" stroke-width="0.4">PMF</text>
<line x1="100.50" y1="648.40" x2="100.50" y2="651.00" stroke="#2a2a2a" stroke-width="1.15"/>
<line x1="95.25" y1="651.50" x2="106.25" y2="651.50" stroke="#2a2a2a" stroke-width="1.15"/>
<rect x="80.50" y="646.50" width="42.00" height="2.00" fill="none" stroke="#2a2a2a" stroke-width="1.15"/>
<line x1="80.00" y1="647.50" x2="122.50" y2="647.50" stroke="#2a2a2a" stroke-width="1.15"/>
<line x1="205.50" y1="550.50" x2="205.50" y2="605.00" stroke="#2a2a2a" stroke-width="1.15"/>
<line x1="201.15" y1="550.50" x2="210.35" y2="550.50" stroke="#2a2a2a" stroke-width="1.15"/>
<line x1="205.50" y1="642.50" x2="205.50" y2="654.50" stroke="#2a2a2a" stroke-width="1.15"/>
<line x1="201.15" y1="654.50" x2="210.35" y2="654.50" stroke="#2a2a2a" stroke-width="1.15"/>
<rect x="185.50" y="605.50" width="42.00" height="37.00" fill="none" stroke="#2a2a2a" stroke-width="1.15"/>
<line x1="185.00" y1="627.50" x2="227.00" y2="627.50" stroke="#2a2a2a" stroke-width="1.15"/>
<path d="M98.25 638.00h0 M103.75 637.50h0 M88.75 647.00h0 M94.50 646.50h0 M100.00 647.00h0 M107.50 647.50h0 M113.75 647.50h0 M120.00 647.50h0 M83.00 651.75h0 M100.75 653.00h0 M202.50 519.25h0 M208.75 522.00h0 M205.75 534.25h0 M202.50 545.50h0 M208.75 550.50h0 M208.75 581.25h0 M202.50 585.00h0 M205.75 602.50h0 M199.50 607.50h0 M211.75 607.50h0 M205.75 610.00h0 M199.50 619.25h0 M223.75 622.00h0 M193.75 625.50h0 M205.75 625.00h0 M211.75 625.50h0 M188.00 630.00h0 M217.50 630.50h0 M205.75 632.75h0 M199.50 635.00h0 M217.50 635.50h0 M223.75 638.50h0 M193.75 640.00h0 M188.00 641.75h0 M211.75 644.25h0 M188.00 651.75h0 M193.75 650.50h0 M199.50 652.50h0 M205.75 651.25h0 M211.75 647.50h0 M217.50 655.00h0 M223.75 651.75h0" stroke="#000" stroke-width="5.4" stroke-linecap="round" fill="none"/>
</g>
<g><!-- OLFM4 -->
<line x1="308.50" y1="514.30" x2="308.50" y2="668.25" stroke="#2a2a2a" stroke-width="1.0"/>
<line x1="307.75" y1="668.50" x2="519.25" y2="668.50" stroke="#2a2a2a" stroke-width="1.0"/>
<line x1="308.50" y1="668.25" x2="308.50" y2="671.85" stroke="#2a2a2a" stroke-width="1.0"/>
<line x1="360.50" y1="668.25" x2="360.50" y2="671.31" stroke="#444" stroke-width="0.9"/>
<line x1="413.50" y1="668.25" x2="413.50" y2="671.85" stroke="#2a2a2a" stroke-width="1.0"/>
<line x1="465.50" y1="668.25" x2="465.50" y2="671.31" stroke="#444" stroke-width="0.9"/>
<line x1="518.50" y1="668.25" x2="518.50" y2="671.85" stroke="#2a2a2a" stroke-width="1.0"/>
<line x1="304.65" y1="514.50" x2="308.25" y2="514.50" stroke="#2a2a2a" stroke-width="1.0"/>
<text x="303.25" y="517.52" font-size="10.4" font-weight="bold" text-anchor="end" stroke="#0a0a0a" stroke-width="0.4">5</text>
<line x1="304.65" y1="544.50" x2="308.25" y2="544.50" stroke="#2a2a2a" stroke-width="1.0"/>
<text x="303.25" y="547.14" font-size="10.4" font-weight="bold" text-anchor="end" stroke="#0a0a0a" stroke-width="0.4">4</text>
<line x1="304.65" y1="573.50" x2="308.25" y2="573.50" stroke="#2a2a2a" stroke-width="1.0"/>
<text x="303.25" y="576.76" font-size="10.4" font-weight="bold" text-anchor="end" stroke="#0a0a0a" stroke-width="0.4">3</text>
<line x1="304.65" y1="603.50" x2="308.25" y2="603.50" stroke="#2a2a2a" stroke-width="1.0"/>
<text x="303.25" y="606.38" font-size="10.4" font-weight="bold" text-anchor="end" stroke="#0a0a0a" stroke-width="0.4">2</text>
<line x1="304.65" y1="632.50" x2="308.25" y2="632.50" stroke="#2a2a2a" stroke-width="1.0"/>
<text x="303.25" y="636.00" font-size="10.4" font-weight="bold" text-anchor="end" stroke="#0a0a0a" stroke-width="0.4">1</text>
<line x1="304.65" y1="662.50" x2="308.25" y2="662.50" stroke="#2a2a2a" stroke-width="1.0"/>
<text x="303.25" y="665.62" font-size="10.4" font-weight="bold" text-anchor="end" stroke="#0a0a0a" stroke-width="0.4">0</text>
<text x="290.50" y="598.75" font-size="12" font-weight="bold" text-anchor="middle" textLength="34.00" lengthAdjust="spacingAndGlyphs" transform="rotate(-90 290.50 598.75)" stroke="#0a0a0a" stroke-width="0.45">ng/ml</text>
<text x="316.20" y="511.80" font-size="13.8" font-weight="bold" textLength="47.20" lengthAdjust="spacingAndGlyphs" stroke="#0a0a0a" stroke-width="0.3">OLFM4</text>
<text x="316.25" y="524.10" font-size="12.6" font-style="italic" textLength="45.75" lengthAdjust="spacingAndGlyphs" stroke="#0a0a0a" stroke-width="0.25">P=0.005</text>
<text x="361.00" y="682.00" font-size="9.6" font-weight="bold" text-anchor="middle" textLength="18.60" lengthAdjust="spacingAndGlyphs" stroke="#0a0a0a" stroke-width="0.4">CTR</text>
<text x="464.50" y="682.00" font-size="9.6" font-weight="bold" text-anchor="middle" textLength="20.80" lengthAdjust="spacingAndGlyphs" stroke="#0a0a0a" stroke-width="0.4">PMF</text>
<line x1="360.50" y1="609.50" x2="360.50" y2="627.00" stroke="#2a2a2a" stroke-width="1.15"/>
<line x1="356.15" y1="609.50" x2="365.35" y2="609.50" stroke="#2a2a2a" stroke-width="1.15"/>
<line x1="360.50" y1="652.50" x2="360.50" y2="658.75" stroke="#2a2a2a" stroke-width="1.15"/>
<line x1="356.15" y1="658.50" x2="365.35" y2="658.50" stroke="#2a2a2a" stroke-width="1.15"/>
<rect x="340.50" y="627.50" width="42.00" height="25.00" fill="none" stroke="#2a2a2a" stroke-width="1.15"/>
<line x1="340.00" y1="646.50" x2="382.00" y2="646.50" stroke="#2a2a2a" stroke-width="1.15"/>
<line x1="465.50" y1="529.25" x2="465.50" y2="535.00" stroke="#2a2a2a" stroke-width="1.15"/>
<line x1="460.40" y1="529.50" x2="470.00" y2="529.50" stroke="#2a2a2a" stroke-width="1.15"/>
<line x1="465.50" y1="599.25" x2="465.50" y2="661.25" stroke="#2a2a2a" stroke-width="1.15"/>
<line x1="460.40" y1="661.50" x2="470.00" y2="661.50" stroke="#2a2a2a" stroke-width="1.15"/>
<rect x="444.50" y="535.50" width="42.00" height="64.00" fill="none" stroke="#2a2a2a" stroke-width="1.15"/>
<line x1="444.50" y1="565.50" x2="486.75" y2="565.50" stroke="#2a2a2a" stroke-width="1.15"/>
<path d="M357.00 609.25h0 M364.50 616.75h0 M350.50 638.25h0 M343.00 644.50h0 M357.00 646.25h0 M378.00 647.50h0 M364.50 656.75h0 M371.25 659.25h0 M453.25 529.50h0 M473.75 529.50h0 M484.50 529.25h0 M446.25 534.50h0 M457.00 534.50h0 M461.25 533.00h0 M466.25 535.00h0 M470.00 533.00h0 M477.50 535.00h0 M449.50 540.00h0 M481.25 539.50h0 M463.25 548.25h0 M470.00 550.75h0 M460.00 564.25h0 M467.00 564.50h0 M473.75 567.00h0 M456.25 569.25h0 M477.50 574.25h0 M470.50 576.75h0 M467.00 580.75h0 M460.00 585.25h0 M473.75 596.25h0 M456.25 598.00h0 M453.00 601.00h0 M463.25 600.00h0 M467.00 615.00h0 M463.25 629.25h0 M470.50 638.25h0 M460.00 639.75h0 M463.25 652.50h0 M467.00 661.25h0" stroke="#000" stroke-width="5.4" stroke-linecap="round" fill="none"/>
</g>
<g><!-- miR-19a-3p -->
<line x1="47.50" y1="720.50" x2="47.50" y2="867.50" stroke="#2a2a2a" stroke-width="1.0"/>
<line x1="47.30" y1="867.50" x2="246.75" y2="867.50" stroke="#2a2a2a" stroke-width="1.0"/>
<line x1="47.50" y1="867.50" x2="47.50" y2="870.80" stroke="#2a2a2a" stroke-width="1.0"/>
<line x1="97.50" y1="867.50" x2="97.50" y2="870.30" stroke="#444" stroke-width="0.9"/>
<line x1="147.50" y1="867.50" x2="147.50" y2="870.80" stroke="#2a2a2a" stroke-width="1.0"/>
<line x1="196.50" y1="867.50" x2="196.50" y2="870.30" stroke="#444" stroke-width="0.9"/>
<line x1="246.50" y1="867.50" x2="246.50" y2="870.80" stroke="#2a2a2a" stroke-width="1.0"/>
<line x1="44.50" y1="720.50" x2="47.80" y2="720.50" stroke="#2a2a2a" stroke-width="1.0"/>
<text x="43.10" y="723.12" font-size="9.7" font-weight="bold" text-anchor="end" stroke="#0a0a0a" stroke-width="0.45">8</text>
<line x1="44.50" y1="737.50" x2="47.80" y2="737.50" stroke="#2a2a2a" stroke-width="1.0"/>
<text x="43.10" y="740.32" font-size="9.7" font-weight="bold" text-anchor="end" stroke="#0a0a0a" stroke-width="0.45">7</text>
<line x1="44.50" y1="755.50" x2="47.80" y2="755.50" stroke="#2a2a2a" stroke-width="1.0"/>
<text x="43.10" y="757.52" font-size="9.7" font-weight="bold" text-anchor="end" stroke="#0a0a0a" stroke-width="0.45">6</text>
<line x1="44.50" y1="772.50" x2="47.80" y2="772.50" stroke="#2a2a2a" stroke-width="1.0"/>
<text x="43.10" y="774.72" font-size="9.7" font-weight="bold" text-anchor="end" stroke="#0a0a0a" stroke-width="0.45">5</text>
<line x1="44.50" y1="789.50" x2="47.80" y2="789.50" stroke="#2a2a2a" stroke-width="1.0"/>
<text x="43.10" y="791.92" font-size="9.7" font-weight="bold" text-anchor="end" stroke="#0a0a0a" stroke-width="0.45">4</text>
<line x1="44.50" y1="806.50" x2="47.80" y2="806.50" stroke="#2a2a2a" stroke-width="1.0"/>
<text x="43.10" y="809.12" font-size="9.7" font-weight="bold" text-anchor="end" stroke="#0a0a0a" stroke-width="0.45">3</text>
<line x1="44.50" y1="823.50" x2="47.80" y2="823.50" stroke="#2a2a2a" stroke-width="1.0"/>
<text x="43.10" y="826.32" font-size="9.7" font-weight="bold" text-anchor="end" stroke="#0a0a0a" stroke-width="0.45">2</text>
<line x1="44.50" y1="841.50" x2="47.80" y2="841.50" stroke="#2a2a2a" stroke-width="1.0"/>
<text x="43.10" y="843.52" font-size="9.7" font-weight="bold" text-anchor="end" stroke="#0a0a0a" stroke-width="0.45">1</text>
<line x1="44.50" y1="858.50" x2="47.80" y2="858.50" stroke="#2a2a2a" stroke-width="1.0"/>
<text x="43.10" y="860.72" font-size="9.7" font-weight="bold" text-anchor="end" stroke="#0a0a0a" stroke-width="0.45">0</text>
<text x="25.80" y="800.70" font-size="11.3" font-weight="bold" text-anchor="middle" textLength="18.00" lengthAdjust="spacingAndGlyphs" transform="rotate(-90 25.80 800.70)" stroke="#0a0a0a" stroke-width="0.6">RQ</text>
<text x="56.90" y="720.70" font-size="11" font-weight="bold" textLength="66.90" lengthAdjust="spacingAndGlyphs" stroke="#0a0a0a" stroke-width="0.3">miR-19a-3p</text>
<text x="56.90" y="738.00" font-size="10" font-style="italic" textLength="37.70" lengthAdjust="spacingAndGlyphs" stroke="#0a0a0a" stroke-width="0.25">p=0.04</text>
<text x="97.50" y="879.15" font-size="9.5" font-weight="bold" text-anchor="middle" textLength="18.50" lengthAdjust="spacingAndGlyphs" stroke="#0a0a0a" stroke-width="0.4">CTR</text>
<text x="195.00" y="879.15" font-size="9.5" font-weight="bold" text-anchor="middle" textLength="20.00" lengthAdjust="spacingAndGlyphs" stroke="#0a0a0a" stroke-width="0.4">PMF</text>
<line x1="97.50" y1="796.25" x2="97.50" y2="825.60" stroke="#2a2a2a" stroke-width="1.15"/>
<line x1="92.90" y1="796.50" x2="102.10" y2="796.50" stroke="#2a2a2a" stroke-width="1.15"/>
<line x1="97.50" y1="853.00" x2="97.50" y2="857.00" stroke="#2a2a2a" stroke-width="1.15"/>
<line x1="92.90" y1="857.50" x2="102.10" y2="857.50" stroke="#2a2a2a" stroke-width="1.15"/>
<rect x="77.50" y="825.50" width="40.00" height="28.00" fill="none" stroke="#2a2a2a" stroke-width="1.15"/>
<line x1="77.50" y1="850.50" x2="117.50" y2="850.50" stroke="#2a2a2a" stroke-width="1.15"/>
<rect x="96.90" y="837.90" width="1.2" height="1.2" fill="#c8c8c8"/>
<line x1="196.50" y1="740.50" x2="196.50" y2="796.25" stroke="#2a2a2a" stroke-width="1.15"/>
<line x1="191.95" y1="740.50" x2="201.55" y2="740.50" stroke="#2a2a2a" stroke-width="1.15"/>
<line x1="196.50" y1="835.75" x2="196.50" y2="845.00" stroke="#2a2a2a" stroke-width="1.15"/>
<line x1="191.95" y1="845.50" x2="201.55" y2="845.50" stroke="#2a2a2a" stroke-width="1.15"/>
<rect x="176.50" y="796.50" width="40.00" height="39.00" fill="none" stroke="#2a2a2a" stroke-width="1.15"/>
<line x1="176.25" y1="824.50" x2="216.75" y2="824.50" stroke="#2a2a2a" stroke-width="1.15"/>
<path d="M100.75 796.25h0 M93.75 805.00h0 M107.50 847.75h0 M113.75 846.25h0 M80.50 852.50h0 M87.00 852.50h0 M93.75 852.00h0 M100.75 857.50h0 M196.75 729.50h0 M194.50 740.50h0 M198.75 752.00h0 M196.25 763.75h0 M196.25 777.00h0 M194.50 790.00h0 M202.50 796.25h0 M198.75 798.00h0 M191.25 806.25h0 M202.50 810.75h0 M195.50 813.00h0 M198.75 813.00h0 M191.25 819.50h0 M200.50 824.50h0 M189.25 827.00h0 M196.75 829.25h0 M211.25 828.75h0 M181.75 832.50h0 M204.25 833.75h0 M207.50 834.50h0 M185.50 836.25h0 M178.25 838.00h0 M193.00 840.75h0 M215.00 840.50h0 M196.75 843.25h0 M200.00 846.25h0" stroke="#000" stroke-width="4.8" stroke-linecap="round" fill="none"/>
</g>
<g><!-- miR-335-5p -->
<line x1="308.50" y1="720.30" x2="308.50" y2="867.50" stroke="#2a2a2a" stroke-width="1.0"/>
<line x1="307.90" y1="867.50" x2="507.25" y2="867.50" stroke="#2a2a2a" stroke-width="1.0"/>
<line x1="308.50" y1="867.50" x2="308.50" y2="870.80" stroke="#2a2a2a" stroke-width="1.0"/>
<line x1="357.50" y1="867.50" x2="357.50" y2="870.30" stroke="#444" stroke-width="0.9"/>
<line x1="407.50" y1="867.50" x2="407.50" y2="870.80" stroke="#2a2a2a" stroke-width="1.0"/>
<line x1="457.50" y1="867.50" x2="457.50" y2="870.30" stroke="#444" stroke-width="0.9"/>
<line x1="506.50" y1="867.50" x2="506.50" y2="870.80" stroke="#2a2a2a" stroke-width="1.0"/>
<line x1="305.10" y1="720.50" x2="308.40" y2="720.50" stroke="#2a2a2a" stroke-width="1.0"/>
<text x="303.70" y="722.87" font-size="9.7" font-weight="bold" text-anchor="end" textLength="10.00" lengthAdjust="spacing" stroke="#0a0a0a" stroke-width="0.45">12</text>
<line x1="305.10" y1="732.50" x2="308.40" y2="732.50" stroke="#2a2a2a" stroke-width="1.0"/>
<text x="303.70" y="734.57" font-size="9.7" font-weight="bold" text-anchor="end" textLength="10.00" lengthAdjust="spacing" stroke="#0a0a0a" stroke-width="0.45">11</text>
<line x1="305.10" y1="743.50" x2="308.40" y2="743.50" stroke="#2a2a2a" stroke-width="1.0"/>
<text x="303.70" y="746.27" font-size="9.7" font-weight="bold" text-anchor="end" textLength="10.00" lengthAdjust="spacing" stroke="#0a0a0a" stroke-width="0.45">10</text>
<line x1="305.10" y1="755.50" x2="308.40" y2="755.50" stroke="#2a2a2a" stroke-width="1.0"/>
<text x="303.70" y="757.97" font-size="9.7" font-weight="bold" text-anchor="end" stroke="#0a0a0a" stroke-width="0.45">9</text>
<line x1="305.10" y1="767.50" x2="308.40" y2="767.50" stroke="#2a2a2a" stroke-width="1.0"/>
<text x="303.70" y="769.67" font-size="9.7" font-weight="bold" text-anchor="end" stroke="#0a0a0a" stroke-width="0.45">8</text>
<line x1="305.10" y1="779.50" x2="308.40" y2="779.50" stroke="#2a2a2a" stroke-width="1.0"/>
<text x="303.70" y="781.37" font-size="9.7" font-weight="bold" text-anchor="end" stroke="#0a0a0a" stroke-width="0.45">7</text>
<line x1="305.10" y1="790.50" x2="308.40" y2="790.50" stroke="#2a2a2a" stroke-width="1.0"/>
<text x="303.70" y="793.07" font-size="9.7" font-weight="bold" text-anchor="end" stroke="#0a0a0a" stroke-width="0.45">6</text>
<line x1="305.10" y1="802.50" x2="308.40" y2="802.50" stroke="#2a2a2a" stroke-width="1.0"/>
<text x="303.70" y="804.77" font-size="9.7" font-weight="bold" text-anchor="end" stroke="#0a0a0a" stroke-width="0.45">5</text>
<line x1="305.10" y1="814.50" x2="308.40" y2="814.50" stroke="#2a2a2a" stroke-width="1.0"/>
<text x="303.70" y="816.47" font-size="9.7" font-weight="bold" text-anchor="end" stroke="#0a0a0a" stroke-width="0.45">4</text>
<line x1="305.10" y1="825.50" x2="308.40" y2="825.50" stroke="#2a2a2a" stroke-width="1.0"/>
<text x="303.70" y="828.17" font-size="9.7" font-weight="bold" text-anchor="end" stroke="#0a0a0a" stroke-width="0.45">3</text>
<line x1="305.10" y1="837.50" x2="308.40" y2="837.50" stroke="#2a2a2a" stroke-width="1.0"/>
<text x="303.70" y="839.87" font-size="9.7" font-weight="bold" text-anchor="end" stroke="#0a0a0a" stroke-width="0.45">2</text>
<line x1="305.10" y1="849.50" x2="308.40" y2="849.50" stroke="#2a2a2a" stroke-width="1.0"/>
<text x="303.70" y="851.57" font-size="9.7" font-weight="bold" text-anchor="end" stroke="#0a0a0a" stroke-width="0.45">1</text>
<line x1="305.10" y1="860.50" x2="308.40" y2="860.50" stroke="#2a2a2a" stroke-width="1.0"/>
<text x="303.70" y="863.27" font-size="9.7" font-weight="bold" text-anchor="end" stroke="#0a0a0a" stroke-width="0.45">0</text>
<text x="285.20" y="801.10" font-size="11.3" font-weight="bold" text-anchor="middle" textLength="18.00" lengthAdjust="spacingAndGlyphs" transform="rotate(-90 285.20 801.10)" stroke="#0a0a0a" stroke-width="0.6">RQ</text>
<text x="317.00" y="720.70" font-size="11" font-weight="bold" textLength="66.75" lengthAdjust="spacingAndGlyphs" stroke="#0a0a0a" stroke-width="0.3">miR-335-5p</text>
<text x="316.50" y="738.00" font-size="10" font-style="italic" textLength="38.00" lengthAdjust="spacingAndGlyphs" stroke="#0a0a0a" stroke-width="0.25">p=0.02</text>
<text x="358.00" y="879.15" font-size="9.5" font-weight="bold" text-anchor="middle" textLength="18.50" lengthAdjust="spacingAndGlyphs" stroke="#0a0a0a" stroke-width="0.4">CTR</text>
<text x="455.50" y="879.15" font-size="9.5" font-weight="bold" text-anchor="middle" textLength="20.00" lengthAdjust="spacingAndGlyphs" stroke="#0a0a0a" stroke-width="0.4">PMF</text>
<line x1="357.50" y1="827.50" x2="357.50" y2="842.50" stroke="#2a2a2a" stroke-width="1.15"/>
<line x1="353.10" y1="827.50" x2="361.90" y2="827.50" stroke="#2a2a2a" stroke-width="1.15"/>
<line x1="357.50" y1="858.25" x2="357.50" y2="860.00" stroke="#2a2a2a" stroke-width="1.15"/>
<line x1="353.10" y1="860.50" x2="361.90" y2="860.50" stroke="#2a2a2a" stroke-width="1.15"/>
<rect x="338.50" y="842.50" width="40.00" height="16.00" fill="none" stroke="#2a2a2a" stroke-width="1.15"/>
<line x1="338.00" y1="851.50" x2="378.00" y2="851.50" stroke="#2a2a2a" stroke-width="1.15"/>
<rect x="356.90" y="847.90" width="1.2" height="1.2" fill="#c8c8c8"/>
<line x1="457.50" y1="736.25" x2="457.50" y2="797.50" stroke="#2a2a2a" stroke-width="1.15"/>
<line x1="452.20" y1="736.50" x2="461.80" y2="736.50" stroke="#2a2a2a" stroke-width="1.15"/>
<line x1="457.50" y1="839.50" x2="457.50" y2="856.25" stroke="#2a2a2a" stroke-width="1.15"/>
<line x1="452.20" y1="856.50" x2="461.80" y2="856.50" stroke="#2a2a2a" stroke-width="1.15"/>
<rect x="437.50" y="797.50" width="40.00" height="42.00" fill="none" stroke="#2a2a2a" stroke-width="1.15"/>
<line x1="437.50" y1="825.50" x2="477.00" y2="825.50" stroke="#2a2a2a" stroke-width="1.15"/>
<path d="M361.25 827.50h0 M354.50 835.50h0 M347.50 851.25h0 M367.50 852.00h0 M374.25 850.00h0 M341.25 858.25h0 M354.50 858.00h0 M360.75 860.00h0 M454.50 735.50h0 M459.25 737.50h0 M457.00 765.00h0 M459.25 776.75h0 M454.50 788.25h0 M457.00 796.75h0 M461.75 797.50h0 M448.25 806.25h0 M452.50 807.50h0 M465.75 811.25h0 M443.75 817.50h0 M457.00 816.75h0 M452.50 822.50h0 M465.75 828.25h0 M448.25 834.25h0 M461.75 834.50h0 M470.00 833.75h0 M439.25 839.25h0 M443.75 838.00h0 M461.75 840.00h0 M448.25 847.50h0 M457.00 847.50h0 M465.75 848.00h0 M470.00 851.50h0 M452.50 852.50h0 M475.00 856.00h0" stroke="#000" stroke-width="4.8" stroke-linecap="round" fill="none"/>
</g>
<g><!-- miR-376c-3p -->
<line x1="47.50" y1="902.80" x2="47.50" y2="931.30" stroke="#2a2a2a" stroke-width="1.0"/>
<line x1="47.50" y1="933.70" x2="47.50" y2="1050.00" stroke="#2a2a2a" stroke-width="1.0"/>
<line x1="45.60" y1="932.20" x2="50.00" y2="930.40" stroke="#2a2a2a" stroke-width="0.8"/>
<line x1="45.60" y1="934.60" x2="50.00" y2="932.80" stroke="#2a2a2a" stroke-width="0.8"/>
<line x1="47.30" y1="1050.50" x2="246.75" y2="1050.50" stroke="#2a2a2a" stroke-width="1.0"/>
<line x1="47.50" y1="1050.00" x2="47.50" y2="1053.30" stroke="#2a2a2a" stroke-width="1.0"/>
<line x1="97.50" y1="1050.00" x2="97.50" y2="1052.81" stroke="#444" stroke-width="0.9"/>
<line x1="147.50" y1="1050.00" x2="147.50" y2="1053.30" stroke="#2a2a2a" stroke-width="1.0"/>
<line x1="196.50" y1="1050.00" x2="196.50" y2="1052.81" stroke="#444" stroke-width="0.9"/>
<line x1="246.50" y1="1050.00" x2="246.50" y2="1053.30" stroke="#2a2a2a" stroke-width="1.0"/>
<line x1="44.50" y1="903.50" x2="47.80" y2="903.50" stroke="#2a2a2a" stroke-width="1.0"/>
<text x="43.10" y="905.37" font-size="9.7" font-weight="bold" text-anchor="end" textLength="14.80" lengthAdjust="spacing" stroke="#0a0a0a" stroke-width="0.45">160</text>
<line x1="44.50" y1="914.50" x2="47.80" y2="914.50" stroke="#2a2a2a" stroke-width="1.0"/>
<text x="43.10" y="916.62" font-size="9.7" font-weight="bold" text-anchor="end" textLength="14.80" lengthAdjust="spacing" stroke="#0a0a0a" stroke-width="0.45">140</text>
<line x1="44.50" y1="925.50" x2="47.80" y2="925.50" stroke="#2a2a2a" stroke-width="1.0"/>
<text x="43.10" y="927.87" font-size="9.7" font-weight="bold" text-anchor="end" textLength="14.80" lengthAdjust="spacing" stroke="#0a0a0a" stroke-width="0.45">120</text>
<line x1="44.50" y1="942.50" x2="47.80" y2="942.50" stroke="#2a2a2a" stroke-width="1.0"/>
<text x="43.10" y="944.87" font-size="9.7" font-weight="bold" text-anchor="end" textLength="10.00" lengthAdjust="spacing" stroke="#0a0a0a" stroke-width="0.45">60</text>
<line x1="44.50" y1="959.50" x2="47.80" y2="959.50" stroke="#2a2a2a" stroke-width="1.0"/>
<text x="43.10" y="962.17" font-size="9.7" font-weight="bold" text-anchor="end" textLength="10.00" lengthAdjust="spacing" stroke="#0a0a0a" stroke-width="0.45">50</text>
<line x1="44.50" y1="977.50" x2="47.80" y2="977.50" stroke="#2a2a2a" stroke-width="1.0"/>
<text x="43.10" y="979.47" font-size="9.7" font-weight="bold" text-anchor="end" textLength="10.00" lengthAdjust="spacing" stroke="#0a0a0a" stroke-width="0.45">40</text>
<line x1="44.50" y1="994.50" x2="47.80" y2="994.50" stroke="#2a2a2a" stroke-width="1.0"/>
<text x="43.10" y="996.77" font-size="9.7" font-weight="bold" text-anchor="end" textLength="10.00" lengthAdjust="spacing" stroke="#0a0a0a" stroke-width="0.45">30</text>
<line x1="44.50" y1="1011.50" x2="47.80" y2="1011.50" stroke="#2a2a2a" stroke-width="1.0"/>
<text x="43.10" y="1014.07" font-size="9.7" font-weight="bold" text-anchor="end" textLength="10.00" lengthAdjust="spacing" stroke="#0a0a0a" stroke-width="0.45">20</text>
<line x1="44.50" y1="1029.50" x2="47.80" y2="1029.50" stroke="#2a2a2a" stroke-width="1.0"/>
<text x="43.10" y="1031.37" font-size="9.7" font-weight="bold" text-anchor="end" textLength="10.00" lengthAdjust="spacing" stroke="#0a0a0a" stroke-width="0.45">10</text>
<line x1="44.50" y1="1046.50" x2="47.80" y2="1046.50" stroke="#2a2a2a" stroke-width="1.0"/>
<text x="43.10" y="1048.67" font-size="9.7" font-weight="bold" text-anchor="end" stroke="#0a0a0a" stroke-width="0.45">0</text>
<text x="25.10" y="983.80" font-size="11.3" font-weight="bold" text-anchor="middle" textLength="18.00" lengthAdjust="spacingAndGlyphs" transform="rotate(-90 25.10 983.80)" stroke="#0a0a0a" stroke-width="0.6">RQ</text>
<text x="57.00" y="902.70" font-size="11" font-weight="bold" textLength="74.00" lengthAdjust="spacingAndGlyphs" stroke="#0a0a0a" stroke-width="0.3">miR-376c-3p</text>
<text x="57.00" y="917.00" font-size="10" font-style="italic" textLength="38.00" lengthAdjust="spacingAndGlyphs" stroke="#0a0a0a" stroke-width="0.25">P=0.05</text>
<text x="97.50" y="1062.40" font-size="9.5" font-weight="bold" text-anchor="middle" textLength="18.50" lengthAdjust="spacingAndGlyphs" stroke="#0a0a0a" stroke-width="0.4">CTR</text>
<text x="195.50" y="1062.40" font-size="9.5" font-weight="bold" text-anchor="middle" textLength="20.00" lengthAdjust="spacingAndGlyphs" stroke="#0a0a0a" stroke-width="0.4">PMF</text>
<line x1="97.50" y1="1040.00" x2="97.50" y2="1043.20" stroke="#2a2a2a" stroke-width="1.15"/>
<line x1="93.10" y1="1040.50" x2="101.90" y2="1040.50" stroke="#2a2a2a" stroke-width="1.15"/>
<rect x="77.50" y="1043.50" width="40.00" height="2.00" fill="none" stroke="#2a2a2a" stroke-width="1.15"/>
<line x1="77.50" y1="1044.50" x2="117.50" y2="1044.50" stroke="#2a2a2a" stroke-width="1.15"/>
<line x1="196.50" y1="938.00" x2="196.50" y2="991.25" stroke="#2a2a2a" stroke-width="1.15"/>
<line x1="191.95" y1="938.50" x2="201.55" y2="938.50" stroke="#2a2a2a" stroke-width="1.15"/>
<line x1="196.50" y1="1042.50" x2="196.50" y2="1046.25" stroke="#2a2a2a" stroke-width="1.15"/>
<line x1="191.95" y1="1046.50" x2="201.55" y2="1046.50" stroke="#2a2a2a" stroke-width="1.15"/>
<rect x="176.50" y="991.50" width="40.00" height="51.00" fill="none" stroke="#2a2a2a" stroke-width="1.15"/>
<line x1="176.75" y1="1035.50" x2="216.75" y2="1035.50" stroke="#2a2a2a" stroke-width="1.15"/>
<path d="M79.50 1044.50h0 M84.25 1042.50h0 M88.00 1045.50h0 M93.00 1045.50h0 M97.00 1045.00h0 M101.75 1040.00h0 M102.50 1043.75h0 M106.25 1043.75h0 M110.75 1045.50h0 M115.00 1045.50h0 M196.75 923.00h0 M196.75 929.50h0 M194.50 937.50h0 M198.75 938.25h0 M196.75 964.25h0 M193.25 989.25h0 M198.00 991.00h0 M200.00 1004.75h0 M195.50 1009.40h0 M194.50 1012.50h0 M180.00 1017.50h0 M184.25 1028.50h0 M200.75 1031.90h0 M188.75 1035.00h0 M207.00 1037.00h0 M186.25 1038.75h0 M190.00 1038.75h0 M192.50 1040.00h0 M202.50 1040.75h0 M181.75 1042.50h0 M197.50 1043.75h0 M200.00 1043.00h0 M178.00 1045.75h0 M205.00 1045.50h0 M209.50 1045.00h0 M212.50 1044.50h0 M215.50 1045.75h0" stroke="#000" stroke-width="4.8" stroke-linecap="round" fill="none"/>
</g>
<g><!-- miR-379-5p -->
<line x1="308.50" y1="902.80" x2="308.50" y2="1050.10" stroke="#2a2a2a" stroke-width="1.0"/>
<line x1="307.50" y1="1050.50" x2="507.25" y2="1050.50" stroke="#2a2a2a" stroke-width="1.0"/>
<line x1="308.50" y1="1050.10" x2="308.50" y2="1053.40" stroke="#2a2a2a" stroke-width="1.0"/>
<line x1="357.50" y1="1050.10" x2="357.50" y2="1052.90" stroke="#444" stroke-width="0.9"/>
<line x1="407.50" y1="1050.10" x2="407.50" y2="1053.40" stroke="#2a2a2a" stroke-width="1.0"/>
<line x1="456.50" y1="1050.10" x2="456.50" y2="1052.90" stroke="#444" stroke-width="0.9"/>
<line x1="506.50" y1="1050.10" x2="506.50" y2="1053.40" stroke="#2a2a2a" stroke-width="1.0"/>
<line x1="304.70" y1="903.50" x2="308.00" y2="903.50" stroke="#2a2a2a" stroke-width="1.0"/>
<text x="303.30" y="905.62" font-size="9.7" font-weight="bold" text-anchor="end" textLength="14.80" lengthAdjust="spacing" stroke="#0a0a0a" stroke-width="0.45">180</text>
<line x1="304.70" y1="919.50" x2="308.00" y2="919.50" stroke="#2a2a2a" stroke-width="1.0"/>
<text x="303.30" y="921.48" font-size="9.7" font-weight="bold" text-anchor="end" textLength="14.80" lengthAdjust="spacing" stroke="#0a0a0a" stroke-width="0.45">160</text>
<line x1="304.70" y1="934.50" x2="308.00" y2="934.50" stroke="#2a2a2a" stroke-width="1.0"/>
<text x="303.30" y="937.34" font-size="9.7" font-weight="bold" text-anchor="end" textLength="14.80" lengthAdjust="spacing" stroke="#0a0a0a" stroke-width="0.45">140</text>
<line x1="304.70" y1="950.50" x2="308.00" y2="950.50" stroke="#2a2a2a" stroke-width="1.0"/>
<text x="303.30" y="953.21" font-size="9.7" font-weight="bold" text-anchor="end" textLength="14.80" lengthAdjust="spacing" stroke="#0a0a0a" stroke-width="0.45">120</text>
<line x1="304.70" y1="966.50" x2="308.00" y2="966.50" stroke="#2a2a2a" stroke-width="1.0"/>
<text x="303.30" y="969.07" font-size="9.7" font-weight="bold" text-anchor="end" textLength="14.80" lengthAdjust="spacing" stroke="#0a0a0a" stroke-width="0.45">100</text>
<line x1="304.70" y1="982.50" x2="308.00" y2="982.50" stroke="#2a2a2a" stroke-width="1.0"/>
<text x="303.30" y="984.93" font-size="9.7" font-weight="bold" text-anchor="end" textLength="10.00" lengthAdjust="spacing" stroke="#0a0a0a" stroke-width="0.45">80</text>
<line x1="304.70" y1="998.50" x2="308.00" y2="998.50" stroke="#2a2a2a" stroke-width="1.0"/>
<text x="303.30" y="1000.79" font-size="9.7" font-weight="bold" text-anchor="end" textLength="10.00" lengthAdjust="spacing" stroke="#0a0a0a" stroke-width="0.45">60</text>
<line x1="304.70" y1="1014.50" x2="308.00" y2="1014.50" stroke="#2a2a2a" stroke-width="1.0"/>
<text x="303.30" y="1016.65" font-size="9.7" font-weight="bold" text-anchor="end" textLength="10.00" lengthAdjust="spacing" stroke="#0a0a0a" stroke-width="0.45">40</text>
<line x1="304.70" y1="1030.50" x2="308.00" y2="1030.50" stroke="#2a2a2a" stroke-width="1.0"/>
<text x="303.30" y="1032.51" font-size="9.7" font-weight="bold" text-anchor="end" textLength="10.00" lengthAdjust="spacing" stroke="#0a0a0a" stroke-width="0.45">20</text>
<line x1="304.70" y1="1046.50" x2="308.00" y2="1046.50" stroke="#2a2a2a" stroke-width="1.0"/>
<text x="303.30" y="1048.37" font-size="9.7" font-weight="bold" text-anchor="end" stroke="#0a0a0a" stroke-width="0.45">0</text>
<text x="283.80" y="983.80" font-size="11.3" font-weight="bold" text-anchor="middle" textLength="18.00" lengthAdjust="spacingAndGlyphs" transform="rotate(-90 283.80 983.80)" stroke="#0a0a0a" stroke-width="0.6">RQ</text>
<text x="316.25" y="902.70" font-size="11" font-weight="bold" textLength="66.25" lengthAdjust="spacingAndGlyphs" stroke="#0a0a0a" stroke-width="0.3">miR-379-5p</text>
<text x="317.00" y="918.25" font-size="10" font-style="italic" textLength="37.50" lengthAdjust="spacingAndGlyphs" stroke="#0a0a0a" stroke-width="0.25">P=0.02</text>
<text x="357.50" y="1062.40" font-size="9.5" font-weight="bold" text-anchor="middle" textLength="18.50" lengthAdjust="spacingAndGlyphs" stroke="#0a0a0a" stroke-width="0.4">CTR</text>
<text x="455.50" y="1062.40" font-size="9.5" font-weight="bold" text-anchor="middle" textLength="20.00" lengthAdjust="spacingAndGlyphs" stroke="#0a0a0a" stroke-width="0.4">PMF</text>
<line x1="357.50" y1="1040.50" x2="357.50" y2="1043.40" stroke="#2a2a2a" stroke-width="1.15"/>
<line x1="353.00" y1="1040.50" x2="362.00" y2="1040.50" stroke="#2a2a2a" stroke-width="1.15"/>
<rect x="338.50" y="1043.50" width="40.00" height="3.00" fill="none" stroke="#2a2a2a" stroke-width="1.15"/>
<line x1="338.00" y1="1045.50" x2="378.00" y2="1045.50" stroke="#2a2a2a" stroke-width="1.15"/>
<line x1="457.50" y1="930.00" x2="457.50" y2="965.75" stroke="#2a2a2a" stroke-width="1.15"/>
<line x1="452.20" y1="930.50" x2="461.80" y2="930.50" stroke="#2a2a2a" stroke-width="1.15"/>
<rect x="436.50" y="965.50" width="40.00" height="80.00" fill="none" stroke="#2a2a2a" stroke-width="1.15"/>
<line x1="436.75" y1="1025.50" x2="476.75" y2="1025.50" stroke="#2a2a2a" stroke-width="1.15"/>
<path d="M339.50 1045.50h0 M344.25 1040.50h0 M348.00 1046.25h0 M352.50 1045.75h0 M357.00 1045.00h0 M361.25 1043.75h0 M365.00 1043.00h0 M368.75 1043.25h0 M372.00 1044.50h0 M375.50 1045.75h0 M457.00 931.25h0 M455.50 932.50h0 M456.25 939.50h0 M459.25 938.75h0 M454.25 950.50h0 M454.25 953.00h0 M457.00 965.50h0 M459.25 965.00h0 M458.00 990.00h0 M455.50 995.00h0 M455.50 1005.25h0 M458.00 1009.40h0 M454.50 1020.50h0 M457.00 1019.50h0 M459.50 1020.00h0 M446.25 1031.25h0 M451.25 1038.75h0 M462.00 1039.50h0 M464.50 1039.50h0 M438.00 1043.75h0 M440.50 1045.00h0 M443.25 1045.75h0 M448.25 1045.50h0 M453.00 1045.00h0 M456.25 1043.75h0 M459.50 1045.75h0 M467.00 1043.75h0 M469.50 1043.75h0 M472.50 1042.50h0 M475.50 1045.50h0" stroke="#000" stroke-width="4.8" stroke-linecap="round" fill="none"/>
</g>
<g><!-- miR-486-3p -->
<line x1="47.50" y1="1084.30" x2="47.50" y2="1113.30" stroke="#2a2a2a" stroke-width="1.0"/>
<line x1="47.50" y1="1115.70" x2="47.50" y2="1232.00" stroke="#2a2a2a" stroke-width="1.0"/>
<line x1="45.60" y1="1114.20" x2="50.00" y2="1112.40" stroke="#2a2a2a" stroke-width="0.8"/>
<line x1="45.60" y1="1116.60" x2="50.00" y2="1114.80" stroke="#2a2a2a" stroke-width="0.8"/>
<line x1="47.30" y1="1232.50" x2="246.75" y2="1232.50" stroke="#2a2a2a" stroke-width="1.0"/>
<line x1="47.50" y1="1232.00" x2="47.50" y2="1235.30" stroke="#2a2a2a" stroke-width="1.0"/>
<line x1="97.50" y1="1232.00" x2="97.50" y2="1234.81" stroke="#444" stroke-width="0.9"/>
<line x1="147.50" y1="1232.00" x2="147.50" y2="1235.30" stroke="#2a2a2a" stroke-width="1.0"/>
<line x1="196.50" y1="1232.00" x2="196.50" y2="1234.81" stroke="#444" stroke-width="0.9"/>
<line x1="246.50" y1="1232.00" x2="246.50" y2="1235.30" stroke="#2a2a2a" stroke-width="1.0"/>
<line x1="44.50" y1="1084.50" x2="47.80" y2="1084.50" stroke="#2a2a2a" stroke-width="1.0"/>
<text x="43.10" y="1086.87" font-size="9.7" font-weight="bold" text-anchor="end" textLength="10.00" lengthAdjust="spacing" stroke="#0a0a0a" stroke-width="0.45">25</text>
<line x1="44.50" y1="1106.50" x2="47.80" y2="1106.50" stroke="#2a2a2a" stroke-width="1.0"/>
<text x="43.10" y="1108.62" font-size="9.7" font-weight="bold" text-anchor="end" textLength="10.00" lengthAdjust="spacing" stroke="#0a0a0a" stroke-width="0.45">20</text>
<line x1="44.50" y1="1138.50" x2="47.80" y2="1138.50" stroke="#2a2a2a" stroke-width="1.0"/>
<text x="43.10" y="1140.37" font-size="9.7" font-weight="bold" text-anchor="end" stroke="#0a0a0a" stroke-width="0.45">4</text>
<line x1="44.50" y1="1159.50" x2="47.80" y2="1159.50" stroke="#2a2a2a" stroke-width="1.0"/>
<text x="43.10" y="1162.12" font-size="9.7" font-weight="bold" text-anchor="end" stroke="#0a0a0a" stroke-width="0.45">3</text>
<line x1="44.50" y1="1181.50" x2="47.80" y2="1181.50" stroke="#2a2a2a" stroke-width="1.0"/>
<text x="43.10" y="1183.87" font-size="9.7" font-weight="bold" text-anchor="end" stroke="#0a0a0a" stroke-width="0.45">2</text>
<line x1="44.50" y1="1203.50" x2="47.80" y2="1203.50" stroke="#2a2a2a" stroke-width="1.0"/>
<text x="43.10" y="1205.62" font-size="9.7" font-weight="bold" text-anchor="end" stroke="#0a0a0a" stroke-width="0.45">1</text>
<line x1="44.50" y1="1225.50" x2="47.80" y2="1225.50" stroke="#2a2a2a" stroke-width="1.0"/>
<text x="43.10" y="1227.37" font-size="9.7" font-weight="bold" text-anchor="end" stroke="#0a0a0a" stroke-width="0.45">0</text>
<text x="25.10" y="1166.00" font-size="11.3" font-weight="bold" text-anchor="middle" textLength="18.00" lengthAdjust="spacingAndGlyphs" transform="rotate(-90 25.10 1166.00)" stroke="#0a0a0a" stroke-width="0.6">RQ</text>
<text x="56.25" y="1082.90" font-size="11" font-weight="bold" textLength="66.25" lengthAdjust="spacingAndGlyphs" stroke="#0a0a0a" stroke-width="0.3">miR-486-3p</text>
<text x="57.00" y="1095.00" font-size="10" font-style="italic" textLength="51.75" lengthAdjust="spacingAndGlyphs" stroke="#0a0a0a" stroke-width="0.25">p&lt;0.0001</text>
<text x="97.50" y="1243.65" font-size="9.5" font-weight="bold" text-anchor="middle" textLength="18.50" lengthAdjust="spacingAndGlyphs" stroke="#0a0a0a" stroke-width="0.4">CTR</text>
<text x="195.50" y="1243.65" font-size="9.5" font-weight="bold" text-anchor="middle" textLength="20.00" lengthAdjust="spacingAndGlyphs" stroke="#0a0a0a" stroke-width="0.4">PMF</text>
<line x1="97.50" y1="1134.50" x2="97.50" y2="1145.50" stroke="#2a2a2a" stroke-width="1.15"/>
<line x1="92.70" y1="1134.50" x2="102.30" y2="1134.50" stroke="#2a2a2a" stroke-width="1.15"/>
<line x1="97.50" y1="1184.25" x2="97.50" y2="1201.75" stroke="#2a2a2a" stroke-width="1.15"/>
<line x1="92.70" y1="1201.50" x2="102.30" y2="1201.50" stroke="#2a2a2a" stroke-width="1.15"/>
<rect x="77.50" y="1145.50" width="40.00" height="39.00" fill="none" stroke="#2a2a2a" stroke-width="1.15"/>
<line x1="77.50" y1="1167.50" x2="117.50" y2="1167.50" stroke="#2a2a2a" stroke-width="1.15"/>
<rect x="96.90" y="1119.40" width="1.2" height="1.2" fill="#c8c8c8"/>
<line x1="196.50" y1="1193.75" x2="196.50" y2="1206.50" stroke="#2a2a2a" stroke-width="1.15"/>
<line x1="191.65" y1="1193.50" x2="200.85" y2="1193.50" stroke="#2a2a2a" stroke-width="1.15"/>
<line x1="196.50" y1="1216.80" x2="196.50" y2="1223.25" stroke="#2a2a2a" stroke-width="1.15"/>
<line x1="191.65" y1="1223.50" x2="200.85" y2="1223.50" stroke="#2a2a2a" stroke-width="1.15"/>
<rect x="176.50" y="1206.50" width="40.00" height="10.00" fill="none" stroke="#2a2a2a" stroke-width="1.15"/>
<line x1="176.25" y1="1211.50" x2="216.50" y2="1211.50" stroke="#2a2a2a" stroke-width="1.15"/>
<path d="M97.00 1102.00h0 M97.00 1134.50h0 M92.00 1160.50h0 M102.00 1155.75h0 M82.00 1174.25h0 M112.00 1176.75h0 M102.00 1191.75h0 M92.00 1201.75h0 M196.25 1176.25h0 M178.25 1185.50h0 M181.75 1193.75h0 M177.00 1197.50h0 M212.50 1196.75h0 M180.00 1206.25h0 M188.75 1205.50h0 M194.50 1206.25h0 M211.25 1205.50h0 M214.50 1206.75h0 M215.75 1209.50h0 M190.50 1211.25h0 M197.50 1210.50h0 M203.75 1212.50h0 M206.25 1212.50h0 M183.25 1214.25h0 M194.50 1214.25h0 M198.75 1213.75h0 M184.50 1216.75h0 M192.50 1216.75h0 M200.75 1215.75h0 M205.00 1216.75h0 M208.75 1218.00h0 M186.25 1219.50h0 M191.75 1220.00h0 M201.25 1220.00h0 M188.00 1223.00h0 M202.50 1223.75h0 M209.50 1223.75h0" stroke="#000" stroke-width="4.8" stroke-linecap="round" fill="none"/>
</g>
<g><!-- miR-487b-3p -->
<line x1="307.50" y1="1084.80" x2="307.50" y2="1232.00" stroke="#2a2a2a" stroke-width="1.0"/>
<line x1="307.20" y1="1232.50" x2="507.25" y2="1232.50" stroke="#2a2a2a" stroke-width="1.0"/>
<line x1="307.50" y1="1232.00" x2="307.50" y2="1235.30" stroke="#2a2a2a" stroke-width="1.0"/>
<line x1="357.50" y1="1232.00" x2="357.50" y2="1234.81" stroke="#444" stroke-width="0.9"/>
<line x1="407.50" y1="1232.00" x2="407.50" y2="1235.30" stroke="#2a2a2a" stroke-width="1.0"/>
<line x1="456.50" y1="1232.00" x2="456.50" y2="1234.81" stroke="#444" stroke-width="0.9"/>
<line x1="506.50" y1="1232.00" x2="506.50" y2="1235.30" stroke="#2a2a2a" stroke-width="1.0"/>
<line x1="304.40" y1="1085.50" x2="307.70" y2="1085.50" stroke="#2a2a2a" stroke-width="1.0"/>
<text x="303.00" y="1087.37" font-size="9.7" font-weight="bold" text-anchor="end" textLength="10.00" lengthAdjust="spacing" stroke="#0a0a0a" stroke-width="0.45">80</text>
<line x1="304.40" y1="1102.50" x2="307.70" y2="1102.50" stroke="#2a2a2a" stroke-width="1.0"/>
<text x="303.00" y="1104.64" font-size="9.7" font-weight="bold" text-anchor="end" textLength="10.00" lengthAdjust="spacing" stroke="#0a0a0a" stroke-width="0.45">70</text>
<line x1="304.40" y1="1119.50" x2="307.70" y2="1119.50" stroke="#2a2a2a" stroke-width="1.0"/>
<text x="303.00" y="1121.90" font-size="9.7" font-weight="bold" text-anchor="end" textLength="10.00" lengthAdjust="spacing" stroke="#0a0a0a" stroke-width="0.45">60</text>
<line x1="304.40" y1="1136.50" x2="307.70" y2="1136.50" stroke="#2a2a2a" stroke-width="1.0"/>
<text x="303.00" y="1139.16" font-size="9.7" font-weight="bold" text-anchor="end" textLength="10.00" lengthAdjust="spacing" stroke="#0a0a0a" stroke-width="0.45">50</text>
<line x1="304.40" y1="1154.50" x2="307.70" y2="1154.50" stroke="#2a2a2a" stroke-width="1.0"/>
<text x="303.00" y="1156.42" font-size="9.7" font-weight="bold" text-anchor="end" textLength="10.00" lengthAdjust="spacing" stroke="#0a0a0a" stroke-width="0.45">40</text>
<line x1="304.40" y1="1171.50" x2="307.70" y2="1171.50" stroke="#2a2a2a" stroke-width="1.0"/>
<text x="303.00" y="1173.69" font-size="9.7" font-weight="bold" text-anchor="end" textLength="10.00" lengthAdjust="spacing" stroke="#0a0a0a" stroke-width="0.45">30</text>
<line x1="304.40" y1="1188.50" x2="307.70" y2="1188.50" stroke="#2a2a2a" stroke-width="1.0"/>
<text x="303.00" y="1190.95" font-size="9.7" font-weight="bold" text-anchor="end" textLength="10.00" lengthAdjust="spacing" stroke="#0a0a0a" stroke-width="0.45">20</text>
<line x1="304.40" y1="1205.50" x2="307.70" y2="1205.50" stroke="#2a2a2a" stroke-width="1.0"/>
<text x="303.00" y="1208.21" font-size="9.7" font-weight="bold" text-anchor="end" textLength="10.00" lengthAdjust="spacing" stroke="#0a0a0a" stroke-width="0.45">10</text>
<line x1="304.40" y1="1223.50" x2="307.70" y2="1223.50" stroke="#2a2a2a" stroke-width="1.0"/>
<text x="303.00" y="1225.47" font-size="9.7" font-weight="bold" text-anchor="end" stroke="#0a0a0a" stroke-width="0.45">0</text>
<text x="284.60" y="1166.20" font-size="11.3" font-weight="bold" text-anchor="middle" textLength="18.00" lengthAdjust="spacingAndGlyphs" transform="rotate(-90 284.60 1166.20)" stroke="#0a0a0a" stroke-width="0.6">RQ</text>
<text x="317.00" y="1082.90" font-size="11" font-weight="bold" textLength="74.50" lengthAdjust="spacingAndGlyphs" stroke="#0a0a0a" stroke-width="0.3">miR-487b-3p</text>
<text x="317.00" y="1098.75" font-size="10" font-style="italic" textLength="38.50" lengthAdjust="spacingAndGlyphs" stroke="#0a0a0a" stroke-width="0.25">p=0.05</text>
<text x="357.50" y="1243.65" font-size="9.5" font-weight="bold" text-anchor="middle" textLength="18.50" lengthAdjust="spacingAndGlyphs" stroke="#0a0a0a" stroke-width="0.4">CTR</text>
<text x="455.50" y="1243.65" font-size="9.5" font-weight="bold" text-anchor="middle" textLength="20.00" lengthAdjust="spacingAndGlyphs" stroke="#0a0a0a" stroke-width="0.4">PMF</text>
<rect x="338.50" y="1221.50" width="40.00" height="2.00" fill="none" stroke="#2a2a2a" stroke-width="1.15"/>
<line x1="338.00" y1="1222.50" x2="378.00" y2="1222.50" stroke="#2a2a2a" stroke-width="1.15"/>
<rect x="356.40" y="1208.90" width="1.2" height="1.2" fill="#c8c8c8"/>
<line x1="457.50" y1="1139.50" x2="457.50" y2="1184.25" stroke="#2a2a2a" stroke-width="1.15"/>
<line x1="452.20" y1="1139.50" x2="461.80" y2="1139.50" stroke="#2a2a2a" stroke-width="1.15"/>
<line x1="457.50" y1="1222.00" x2="457.50" y2="1222.50" stroke="#2a2a2a" stroke-width="1.15"/>
<line x1="452.20" y1="1222.50" x2="461.80" y2="1222.50" stroke="#2a2a2a" stroke-width="1.15"/>
<rect x="436.50" y="1184.50" width="40.00" height="38.00" fill="none" stroke="#2a2a2a" stroke-width="1.15"/>
<line x1="436.75" y1="1212.50" x2="476.75" y2="1212.50" stroke="#2a2a2a" stroke-width="1.15"/>
<path d="M361.75 1209.50h0 M339.50 1222.50h0 M344.25 1218.25h0 M348.00 1222.00h0 M352.50 1220.75h0 M357.00 1221.75h0 M361.25 1222.50h0 M366.25 1221.75h0 M370.00 1221.25h0 M375.00 1222.50h0 M456.75 1110.50h0 M457.50 1139.50h0 M455.50 1152.00h0 M456.75 1169.50h0 M460.00 1177.50h0 M453.75 1179.50h0 M456.25 1180.50h0 M458.00 1184.25h0 M454.50 1196.00h0 M458.75 1201.50h0 M456.25 1202.25h0 M460.00 1208.75h0 M451.25 1210.75h0 M440.00 1212.50h0 M473.25 1211.25h0 M447.00 1214.75h0 M467.00 1214.75h0 M453.00 1217.00h0 M470.00 1218.00h0 M449.50 1219.25h0 M456.25 1219.50h0 M458.75 1220.50h0 M462.50 1220.75h0 M465.00 1221.25h0 M438.00 1221.75h0 M441.25 1222.50h0 M444.25 1223.00h0 M468.75 1223.00h0 M475.50 1223.00h0 M472.50 1220.75h0" stroke="#000" stroke-width="4.8" stroke-linecap="round" fill="none"/>
</g>
<g><!-- miR-494-3p -->
<line x1="48.50" y1="1264.80" x2="48.50" y2="1413.25" stroke="#2a2a2a" stroke-width="1.0"/>
<line x1="47.60" y1="1413.50" x2="249.25" y2="1413.50" stroke="#2a2a2a" stroke-width="1.0"/>
<line x1="48.50" y1="1413.25" x2="48.50" y2="1416.55" stroke="#2a2a2a" stroke-width="1.0"/>
<line x1="98.50" y1="1413.25" x2="98.50" y2="1416.06" stroke="#444" stroke-width="0.9"/>
<line x1="148.50" y1="1413.25" x2="148.50" y2="1416.55" stroke="#2a2a2a" stroke-width="1.0"/>
<line x1="198.50" y1="1413.25" x2="198.50" y2="1416.06" stroke="#444" stroke-width="0.9"/>
<line x1="248.50" y1="1413.25" x2="248.50" y2="1416.55" stroke="#2a2a2a" stroke-width="1.0"/>
<line x1="44.80" y1="1265.50" x2="48.10" y2="1265.50" stroke="#2a2a2a" stroke-width="1.0"/>
<text x="43.40" y="1267.37" font-size="9.7" font-weight="bold" text-anchor="end" stroke="#0a0a0a" stroke-width="0.45">4</text>
<line x1="44.80" y1="1300.50" x2="48.10" y2="1300.50" stroke="#2a2a2a" stroke-width="1.0"/>
<text x="43.40" y="1302.56" font-size="9.7" font-weight="bold" text-anchor="end" stroke="#0a0a0a" stroke-width="0.45">3</text>
<line x1="44.80" y1="1335.50" x2="48.10" y2="1335.50" stroke="#2a2a2a" stroke-width="1.0"/>
<text x="43.40" y="1337.75" font-size="9.7" font-weight="bold" text-anchor="end" stroke="#0a0a0a" stroke-width="0.45">2</text>
<line x1="44.80" y1="1370.50" x2="48.10" y2="1370.50" stroke="#2a2a2a" stroke-width="1.0"/>
<text x="43.40" y="1372.94" font-size="9.7" font-weight="bold" text-anchor="end" stroke="#0a0a0a" stroke-width="0.45">1</text>
<line x1="44.80" y1="1405.50" x2="48.10" y2="1405.50" stroke="#2a2a2a" stroke-width="1.0"/>
<text x="43.40" y="1408.12" font-size="9.7" font-weight="bold" text-anchor="end" stroke="#0a0a0a" stroke-width="0.45">0</text>
<text x="26.60" y="1346.30" font-size="11.3" font-weight="bold" text-anchor="middle" textLength="18.00" lengthAdjust="spacingAndGlyphs" transform="rotate(-90 26.60 1346.30)" stroke="#0a0a0a" stroke-width="0.6">RQ</text>
<text x="57.00" y="1264.90" font-size="11" font-weight="bold" textLength="66.75" lengthAdjust="spacingAndGlyphs" stroke="#0a0a0a" stroke-width="0.3">miR-494-3p</text>
<text x="58.75" y="1283.00" font-size="10" font-style="italic" textLength="38.25" lengthAdjust="spacingAndGlyphs" stroke="#0a0a0a" stroke-width="0.25">p=0.03</text>
<text x="98.25" y="1425.40" font-size="9.5" font-weight="bold" text-anchor="middle" textLength="18.50" lengthAdjust="spacingAndGlyphs" stroke="#0a0a0a" stroke-width="0.4">CTR</text>
<text x="195.50" y="1425.40" font-size="9.5" font-weight="bold" text-anchor="middle" textLength="20.00" lengthAdjust="spacingAndGlyphs" stroke="#0a0a0a" stroke-width="0.4">PMF</text>
<line x1="98.50" y1="1326.75" x2="98.50" y2="1356.75" stroke="#2a2a2a" stroke-width="1.15"/>
<line x1="93.95" y1="1326.50" x2="103.55" y2="1326.50" stroke="#2a2a2a" stroke-width="1.15"/>
<line x1="98.50" y1="1380.75" x2="98.50" y2="1393.25" stroke="#2a2a2a" stroke-width="1.15"/>
<line x1="93.95" y1="1393.50" x2="103.55" y2="1393.50" stroke="#2a2a2a" stroke-width="1.15"/>
<rect x="78.50" y="1356.50" width="40.00" height="24.00" fill="none" stroke="#2a2a2a" stroke-width="1.15"/>
<line x1="78.75" y1="1364.50" x2="118.75" y2="1364.50" stroke="#2a2a2a" stroke-width="1.15"/>
<line x1="198.50" y1="1282.00" x2="198.50" y2="1321.25" stroke="#2a2a2a" stroke-width="1.15"/>
<line x1="193.95" y1="1282.50" x2="203.55" y2="1282.50" stroke="#2a2a2a" stroke-width="1.15"/>
<line x1="198.50" y1="1361.75" x2="198.50" y2="1374.25" stroke="#2a2a2a" stroke-width="1.15"/>
<line x1="193.95" y1="1374.50" x2="203.55" y2="1374.50" stroke="#2a2a2a" stroke-width="1.15"/>
<rect x="178.50" y="1321.50" width="40.00" height="40.00" fill="none" stroke="#2a2a2a" stroke-width="1.15"/>
<line x1="178.75" y1="1344.50" x2="218.75" y2="1344.50" stroke="#2a2a2a" stroke-width="1.15"/>
<path d="M98.25 1326.75h0 M98.25 1356.75h0 M106.25 1357.00h0 M114.50 1358.75h0 M82.50 1365.00h0 M90.00 1365.75h0 M102.50 1380.75h0 M94.50 1387.50h0 M98.25 1393.00h0 M195.00 1283.25h0 M198.00 1281.75h0 M198.00 1295.50h0 M202.50 1295.50h0 M194.50 1310.50h0 M202.50 1308.75h0 M198.75 1315.75h0 M198.75 1321.25h0 M194.50 1333.75h0 M202.50 1331.75h0 M200.50 1338.00h0 M213.00 1337.00h0 M188.75 1341.25h0 M208.75 1342.00h0 M181.25 1344.50h0 M184.25 1345.00h0 M197.00 1344.50h0 M216.75 1344.50h0 M204.50 1346.75h0 M192.50 1348.75h0 M196.75 1353.75h0 M213.00 1358.75h0 M192.50 1362.50h0 M200.75 1361.75h0 M185.00 1366.75h0 M188.75 1369.25h0 M205.00 1366.75h0 M208.75 1370.00h0 M197.00 1373.75h0 M200.75 1375.00h0" stroke="#000" stroke-width="4.8" stroke-linecap="round" fill="none"/>
</g>
</svg>
</body></html>
